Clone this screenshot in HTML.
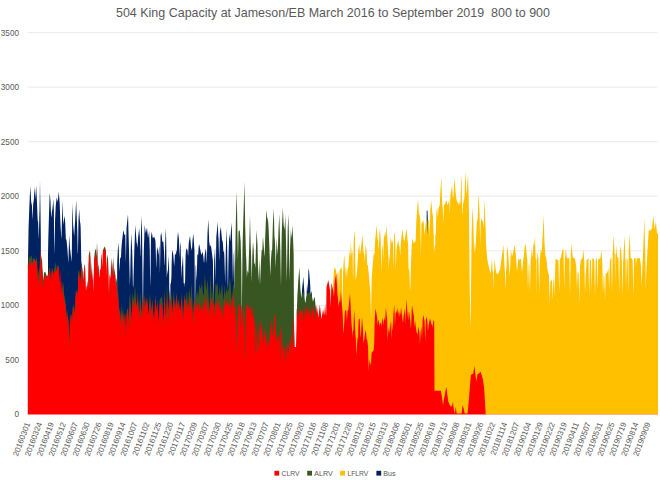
<!DOCTYPE html>
<html><head><meta charset="utf-8"><title>504 King Capacity</title>
<style>html,body{margin:0;padding:0;background:#fff;width:660px;height:480px;overflow:hidden}svg{display:block}</style>
</head><body>
<svg width="660" height="480" viewBox="0 0 660 480">
<style>
text{font-family:"Liberation Sans",sans-serif;fill:#595959}
.ax{font-size:8.2px}
.xl{font-size:8px}
.lg{font-size:7.5px}
</style>
<rect width="660" height="480" fill="#fff"/>
<line x1="27.5" x2="657.5" y1="359.94" y2="359.94" stroke="#dcdcdc" stroke-width="0.6"/>
<line x1="27.5" x2="657.5" y1="305.38" y2="305.38" stroke="#dcdcdc" stroke-width="0.6"/>
<line x1="27.5" x2="657.5" y1="250.81" y2="250.81" stroke="#dcdcdc" stroke-width="0.6"/>
<line x1="27.5" x2="657.5" y1="196.25" y2="196.25" stroke="#dcdcdc" stroke-width="0.6"/>
<line x1="27.5" x2="657.5" y1="141.69" y2="141.69" stroke="#dcdcdc" stroke-width="0.6"/>
<line x1="27.5" x2="657.5" y1="87.12" y2="87.12" stroke="#dcdcdc" stroke-width="0.6"/>
<line x1="27.5" x2="657.5" y1="32.56" y2="32.56" stroke="#dcdcdc" stroke-width="0.6"/>

<filter id="bl" x="0" y="0" width="660" height="480" filterUnits="userSpaceOnUse"><feGaussianBlur stdDeviation="0.4 0.25"/></filter>
<g id="areas" filter="url(#bl)">
<path d="M27.70,417.50 L27.70,417.5 L27.83,417.5 L27.94,262.9 L28.02,258.2 L28.20,248.4 L28.56,228.2 L28.62,226.2 L28.67,225.0 L28.70,224.1 L28.86,220.1 L29.20,211.1 L29.50,203.3 L29.70,199.1 L30.00,192.8 L30.02,192.3 L30.20,188.6 L30.33,185.8 L30.62,191.4 L30.65,191.9 L30.70,192.8 L31.17,201.7 L31.20,201.8 L31.22,202.0 L31.67,204.2 L31.70,204.3 L31.76,204.7 L31.93,205.5 L32.00,207.6 L32.05,208.8 L32.20,212.1 L32.36,215.9 L32.55,220.0 L32.70,216.2 L32.96,209.8 L33.00,208.9 L33.17,204.0 L33.19,203.8 L33.20,203.8 L33.33,203.0 L33.70,200.8 L33.83,200.0 L34.20,194.1 L34.34,191.9 L34.67,186.7 L34.70,187.3 L35.00,192.9 L35.20,196.7 L35.33,199.2 L35.70,193.1 L35.77,192.0 L36.17,185.3 L36.20,186.1 L36.67,196.1 L36.70,196.9 L37.00,203.3 L37.03,204.1 L37.20,208.3 L37.44,214.4 L37.63,219.1 L37.67,220.0 L37.70,220.2 L38.17,222.5 L38.20,223.4 L38.23,224.3 L38.67,237.5 L38.70,237.8 L38.79,238.7 L39.01,229.8 L39.18,222.6 L39.20,221.8 L39.33,216.3 L39.41,213.1 L39.50,211.7 L39.70,199.3 L39.78,194.4 L40.00,180.8 L40.20,193.2 L40.38,204.3 L40.50,211.7 L40.60,219.2 L40.66,223.7 L40.70,227.0 L40.83,237.2 L41.00,417.5 L47.83,417.5 L48.00,254.6 L48.20,244.2 L48.29,239.6 L48.43,234.5 L48.67,226.0 L48.68,225.6 L48.70,224.8 L48.83,220.0 L49.03,213.5 L49.20,207.9 L49.67,192.5 L49.69,192.7 L49.70,192.9 L50.00,196.1 L50.20,198.3 L50.24,198.7 L50.51,201.6 L50.67,205.8 L50.70,206.6 L50.72,207.1 L50.84,210.2 L51.13,217.5 L51.20,217.2 L51.33,216.4 L51.44,215.8 L51.67,214.6 L51.70,213.9 L51.75,212.8 L51.92,211.8 L52.20,210.1 L52.50,208.3 L52.70,206.1 L52.97,203.2 L53.14,201.3 L53.20,200.6 L53.33,199.2 L53.70,206.9 L53.74,207.6 L53.83,209.6 L53.83,209.9 L54.09,229.3 L54.17,235.5 L54.20,237.8 L54.34,247.0 L54.45,254.7 L54.70,243.9 L54.83,238.1 L55.00,225.2 L55.07,219.8 L55.20,216.9 L55.67,206.7 L55.70,206.4 L55.82,205.3 L56.02,203.4 L56.20,201.8 L56.33,200.6 L56.62,197.9 L56.67,197.5 L56.70,197.6 L56.82,198.1 L57.20,199.7 L57.23,199.8 L57.67,201.7 L57.70,201.4 L58.20,197.1 L58.38,195.6 L58.70,192.8 L58.72,192.6 L58.83,191.7 L59.00,194.0 L59.20,196.8 L59.32,198.5 L59.47,200.6 L59.67,203.3 L59.70,204.2 L59.92,210.0 L60.00,212.0 L60.20,217.2 L60.44,223.3 L60.50,225.0 L60.66,227.8 L60.70,228.5 L60.95,232.8 L61.00,234.4 L61.04,235.4 L61.17,239.3 L61.20,238.9 L61.57,234.1 L61.64,231.5 L61.70,229.2 L61.79,225.7 L61.83,224.2 L62.00,217.4 L62.10,213.2 L62.19,209.8 L62.20,209.5 L62.50,200.8 L62.70,208.1 L62.70,208.3 L63.00,219.0 L63.17,225.0 L63.20,224.7 L63.30,224.0 L63.33,223.8 L63.48,222.6 L63.70,221.0 L63.83,220.0 L64.00,219.2 L64.08,218.8 L64.20,218.2 L64.67,215.8 L64.68,216.0 L64.70,216.3 L64.90,218.9 L65.00,220.2 L65.20,222.8 L65.21,222.9 L65.50,230.2 L65.54,231.2 L65.70,235.5 L65.83,238.9 L66.00,239.2 L66.14,239.4 L66.20,239.5 L66.33,239.8 L66.38,239.7 L66.45,239.5 L66.70,242.0 L66.74,242.4 L67.00,245.0 L67.20,247.0 L67.33,248.3 L67.61,252.5 L67.70,253.8 L68.00,258.3 L68.20,261.3 L68.33,263.3 L68.63,253.3 L68.66,252.1 L68.70,250.9 L69.00,240.7 L69.17,235.0 L69.20,235.5 L69.26,236.5 L69.70,243.5 L69.74,244.2 L69.86,246.1 L70.00,248.3 L70.20,250.0 L70.70,254.2 L70.91,255.9 L71.00,256.7 L71.02,256.2 L71.20,257.9 L71.46,260.5 L71.64,262.1 L71.70,258.7 L71.83,251.0 L72.00,237.1 L72.06,231.8 L72.20,220.3 L72.26,215.3 L72.50,203.3 L72.66,208.6 L72.67,208.7 L72.70,209.8 L73.00,219.6 L73.17,225.0 L73.20,225.4 L73.70,231.2 L73.95,234.1 L74.00,234.7 L74.09,235.8 L74.17,236.7 L74.20,236.1 L74.55,230.3 L74.70,227.8 L75.00,222.8 L75.15,220.3 L75.17,220.0 L75.20,219.3 L75.44,214.6 L75.70,209.3 L76.00,203.3 L76.17,200.0 L76.20,201.0 L76.70,216.0 L76.83,220.0 L77.00,224.0 L77.09,226.2 L77.12,226.9 L77.20,228.8 L77.29,230.9 L77.67,252.1 L77.69,252.3 L77.70,252.4 L77.91,254.1 L78.00,249.0 L78.20,237.8 L78.29,232.6 L78.50,220.9 L78.53,219.5 L78.70,216.7 L78.90,213.5 L79.00,211.9 L79.17,209.2 L79.20,209.7 L79.70,217.8 L79.71,218.1 L79.83,220.0 L80.00,221.2 L80.20,222.8 L80.31,223.6 L80.50,225.0 L80.66,228.5 L80.69,230.0 L80.70,230.7 L80.91,241.6 L81.00,245.9 L81.17,254.3 L81.20,256.4 L81.28,261.2 L81.70,264.2 L81.83,265.1 L81.90,417.5 L117.00,417.5 L117.17,263.3 L117.20,262.7 L117.36,259.4 L117.70,252.7 L117.83,250.0 L117.89,249.2 L117.96,248.1 L118.00,247.5 L118.20,244.5 L118.33,242.5 L118.58,246.5 L118.70,248.5 L118.83,250.5 L119.00,257.8 L119.18,263.4 L119.20,264.2 L119.44,272.0 L119.51,270.7 L119.70,267.2 L119.78,265.8 L119.94,262.8 L120.00,261.6 L120.06,259.4 L120.20,258.3 L120.30,257.4 L120.54,257.6 L120.70,257.7 L120.92,257.8 L121.00,256.4 L121.04,255.7 L121.14,253.9 L121.17,253.4 L121.20,252.8 L121.54,246.3 L121.70,244.7 L122.00,241.7 L122.17,240.0 L122.20,239.7 L122.38,238.2 L122.70,235.4 L123.00,232.9 L123.20,231.1 L123.33,230.0 L123.67,231.4 L123.70,231.6 L124.00,232.9 L124.20,233.7 L124.50,235.0 L124.70,234.9 L125.00,234.7 L125.09,234.6 L125.20,234.6 L125.26,234.5 L125.33,237.7 L125.70,255.1 L125.83,261.3 L125.88,263.0 L125.93,260.3 L126.00,256.2 L126.20,244.9 L126.47,229.6 L126.50,228.1 L126.53,227.8 L126.70,226.2 L126.83,225.0 L127.00,223.5 L127.20,221.6 L127.70,217.0 L128.00,214.2 L128.09,217.5 L128.20,221.3 L128.20,221.3 L128.69,239.0 L128.70,239.2 L129.00,250.0 L129.20,258.0 L129.29,261.8 L129.62,274.9 L129.70,279.1 L129.75,282.0 L129.83,286.4 L130.00,281.7 L130.20,276.2 L130.24,275.0 L130.50,260.3 L130.70,252.2 L130.86,245.6 L131.00,242.0 L131.04,241.0 L131.20,236.8 L131.30,234.1 L131.33,233.3 L131.70,241.3 L132.20,252.1 L132.28,253.9 L132.33,256.2 L132.52,265.8 L132.70,275.0 L132.73,276.5 L132.90,285.2 L133.20,286.9 L133.33,287.6 L133.52,277.1 L133.70,271.1 L133.85,266.1 L133.97,261.9 L134.20,254.4 L134.33,250.0 L134.70,240.8 L134.99,233.6 L135.11,230.6 L135.20,228.3 L135.33,225.0 L135.70,230.0 L136.20,236.9 L136.20,237.0 L136.62,242.6 L136.67,243.3 L136.70,243.2 L136.80,242.8 L137.20,246.1 L137.42,247.8 L137.56,245.6 L137.69,243.6 L137.70,243.4 L138.00,238.8 L138.04,238.0 L138.20,236.6 L138.70,232.3 L138.84,231.2 L139.17,228.3 L139.20,228.8 L139.21,228.9 L139.70,235.2 L139.84,237.0 L139.97,242.1 L140.06,245.6 L140.20,250.8 L140.33,255.9 L140.46,256.5 L140.70,245.3 L141.08,228.0 L141.20,225.5 L141.48,219.7 L141.67,215.8 L141.70,217.4 L141.72,218.3 L142.12,236.9 L142.20,245.8 L142.50,277.5 L142.57,284.1 L142.70,297.7 L142.74,417.5 L143.07,417.5 L143.17,294.3 L143.20,290.7 L143.35,273.9 L143.70,256.7 L143.83,250.0 L143.90,248.1 L144.15,240.6 L144.20,239.0 L144.67,225.0 L144.70,225.2 L144.76,225.7 L145.20,228.8 L145.55,231.3 L145.70,232.4 L145.79,233.0 L145.83,233.3 L146.20,231.5 L146.70,229.0 L147.00,227.5 L147.00,227.5 L147.08,228.4 L147.20,229.7 L147.70,235.1 L148.00,238.3 L148.20,237.0 L148.55,234.8 L148.70,233.8 L148.75,233.5 L149.17,230.8 L149.20,231.9 L149.70,247.4 L149.76,249.1 L149.93,265.3 L150.00,272.2 L150.20,280.4 L150.34,286.3 L150.38,287.7 L150.70,260.0 L150.83,248.6 L151.00,237.0 L151.20,235.4 L151.32,234.4 L151.67,231.7 L151.70,231.9 L151.91,233.0 L152.20,234.7 L152.38,235.7 L152.70,237.6 L152.83,238.3 L153.20,237.9 L153.49,237.5 L153.70,237.2 L154.06,236.8 L154.17,236.7 L154.20,236.8 L154.59,237.9 L154.70,238.2 L155.20,239.6 L155.33,240.0 L155.49,242.3 L155.58,243.8 L155.70,248.3 L156.19,267.3 L156.20,267.9 L156.20,268.0 L156.33,266.9 L156.50,261.5 L156.70,255.4 L156.82,251.5 L157.20,248.8 L157.38,247.5 L157.50,246.7 L157.70,248.7 L157.91,250.7 L158.20,253.7 L158.33,255.0 L158.54,252.9 L158.70,251.3 L159.20,246.3 L159.33,245.0 L159.33,245.0 L159.53,254.0 L159.69,261.7 L159.70,262.1 L159.95,273.9 L160.20,258.3 L160.33,249.9 L160.57,235.7 L160.70,235.1 L161.20,233.1 L161.25,232.9 L161.28,232.7 L161.33,232.5 L161.70,235.9 L162.20,240.4 L162.24,240.8 L162.33,241.7 L163.33,241.7 L163.47,243.5 L163.70,246.9 L164.11,252.7 L164.19,255.5 L164.20,255.8 L164.50,265.6 L164.62,264.8 L164.70,264.3 L164.73,264.1 L165.17,245.0 L165.20,243.7 L165.35,238.1 L165.58,233.4 L165.70,231.0 L165.83,228.3 L165.99,233.3 L166.15,238.5 L166.20,241.8 L166.67,272.7 L166.70,274.5 L166.72,275.3 L166.77,278.3 L167.04,274.5 L167.20,272.2 L167.39,269.5 L167.67,275.0 L167.70,274.3 L168.09,266.6 L168.14,265.5 L168.20,264.3 L168.67,255.0 L168.70,256.1 L169.15,271.3 L169.17,273.3 L169.20,276.7 L169.50,417.5 L170.20,417.5 L170.39,283.4 L170.53,283.3 L170.78,283.3 L170.83,284.4 L171.20,279.7 L171.40,277.0 L171.51,271.1 L171.67,262.4 L171.70,261.5 L172.02,252.9 L172.20,251.8 L172.27,251.4 L172.48,250.1 L172.50,250.0 L172.70,251.2 L173.20,254.2 L173.33,255.0 L173.56,258.2 L173.68,259.9 L173.70,260.1 L174.17,266.7 L174.20,266.1 L174.70,258.1 L174.92,254.7 L175.00,253.3 L175.13,253.6 L175.20,253.7 L175.70,254.5 L176.00,255.0 L176.20,252.3 L176.23,251.9 L176.36,251.6 L176.51,251.2 L176.70,250.7 L176.85,250.3 L177.00,246.8 L177.20,242.6 L177.47,236.9 L177.69,234.8 L177.70,234.7 L177.93,232.4 L178.00,231.7 L178.20,233.3 L178.70,237.5 L178.74,237.8 L178.94,239.5 L179.00,241.9 L179.20,247.6 L179.49,256.0 L179.56,257.8 L179.70,253.6 L180.00,245.0 L180.18,241.8 L180.20,242.0 L180.25,242.5 L180.66,246.6 L180.70,248.6 L181.00,263.2 L181.20,274.2 L181.23,275.7 L181.28,278.4 L181.70,269.2 L181.84,266.2 L181.90,265.0 L182.00,266.7 L182.20,264.3 L182.70,258.5 L182.74,258.1 L183.00,255.0 L183.00,255.0 L183.20,263.5 L183.67,283.3 L184.47,283.3 L184.67,287.2 L184.70,286.7 L184.93,283.3 L185.09,280.9 L185.20,274.9 L185.50,259.0 L185.70,253.5 L185.71,253.3 L186.05,250.6 L186.20,249.4 L186.33,248.3 L186.47,248.5 L186.70,248.9 L187.09,249.4 L187.20,249.6 L187.49,250.0 L187.50,250.2 L187.70,252.3 L187.74,252.7 L188.10,256.4 L188.19,254.5 L188.20,254.3 L188.67,244.3 L188.70,243.5 L188.72,243.0 L189.05,241.2 L189.07,241.1 L189.20,240.3 L189.70,237.5 L190.00,235.8 L190.20,238.0 L190.21,238.1 L190.39,240.0 L190.70,243.3 L191.17,248.3 L191.20,248.2 L191.28,247.8 L191.70,249.9 L191.73,250.0 L191.90,250.9 L191.91,250.6 L192.17,246.8 L192.20,246.2 L192.51,240.3 L192.70,238.8 L192.94,236.7 L193.20,234.5 L193.33,233.4 L193.33,233.3 L193.70,238.8 L194.17,245.9 L194.20,246.3 L194.33,248.3 L194.44,249.9 L194.46,250.3 L194.70,270.0 L195.08,417.5 L195.20,294.9 L195.33,287.9 L195.70,264.6 L195.74,264.7 L195.75,264.7 L196.05,265.7 L196.20,270.5 L196.33,274.8 L196.67,280.6 L196.69,279.9 L196.70,279.5 L197.20,259.2 L197.29,255.5 L197.33,255.0 L197.41,254.5 L197.49,254.0 L197.70,254.5 L198.11,255.6 L198.20,254.1 L198.22,253.8 L198.33,252.0 L198.70,246.7 L198.73,246.4 L198.78,246.1 L199.17,244.2 L199.20,244.3 L199.20,244.3 L199.70,246.8 L200.06,248.7 L200.20,249.3 L200.33,250.0 L200.70,251.8 L200.83,252.5 L201.20,254.3 L201.33,255.0 L201.61,254.2 L201.70,254.0 L202.20,252.5 L202.48,251.7 L202.50,251.7 L202.70,252.8 L202.70,252.8 L203.20,255.7 L203.47,257.2 L203.67,260.5 L203.70,260.7 L203.82,261.6 L204.09,263.5 L204.13,262.9 L204.20,261.9 L204.67,255.4 L204.70,254.9 L204.71,254.8 L204.72,254.7 L205.20,252.0 L205.70,249.1 L205.83,248.3 L205.92,249.2 L206.20,252.0 L206.26,252.6 L206.38,255.7 L206.67,263.3 L206.70,262.9 L206.88,260.8 L207.00,255.5 L207.20,246.5 L207.50,233.4 L207.50,233.3 L207.70,229.9 L207.80,228.2 L208.17,221.9 L208.20,221.4 L208.33,219.2 L208.70,229.1 L209.17,241.7 L209.20,241.9 L209.23,242.1 L209.34,242.7 L209.70,244.9 L210.00,246.7 L210.20,246.3 L210.41,245.9 L210.57,245.5 L210.70,245.3 L210.83,245.0 L211.20,247.6 L211.70,251.2 L211.81,251.9 L211.85,252.3 L212.00,253.3 L212.20,255.0 L212.70,259.2 L212.86,260.5 L212.93,261.1 L213.00,266.3 L213.20,279.3 L213.36,289.5 L213.55,417.5 L213.70,291.7 L214.17,260.2 L214.17,260.0 L214.20,259.6 L214.42,256.6 L214.43,256.5 L214.70,252.9 L215.07,248.0 L215.17,253.0 L215.20,254.9 L215.48,270.4 L215.69,282.1 L215.70,281.3 L216.13,249.7 L216.20,244.8 L216.31,236.9 L216.33,236.7 L216.47,235.3 L216.70,233.0 L217.00,230.0 L217.20,227.5 L217.52,223.5 L217.53,223.4 L217.67,221.7 L217.70,222.4 L218.20,233.7 L218.33,236.7 L218.38,236.9 L218.54,237.7 L218.70,243.6 L219.08,258.0 L219.16,261.0 L219.20,260.0 L219.33,256.4 L219.52,247.6 L219.70,238.9 L219.78,234.9 L220.00,231.7 L220.20,230.5 L220.39,229.3 L220.44,229.0 L220.70,227.5 L220.83,226.7 L221.20,230.9 L221.70,236.6 L221.93,239.1 L222.00,240.0 L222.04,240.1 L222.20,240.5 L222.70,241.8 L222.78,241.9 L223.20,248.3 L223.33,250.3 L223.38,251.5 L223.40,251.9 L223.42,251.9 L223.70,251.6 L224.02,251.3 L224.20,253.4 L224.33,255.0 L224.70,267.5 L224.75,269.1 L225.05,279.3 L225.17,283.3 L225.20,281.7 L225.59,262.1 L225.70,256.7 L225.83,250.0 L226.20,240.5 L226.56,231.1 L226.67,228.3 L226.70,229.7 L227.11,246.2 L227.20,251.3 L227.33,259.1 L227.69,280.8 L227.70,281.4 L227.73,283.5 L228.00,289.9 L228.20,276.2 L228.35,265.7 L228.67,250.0 L228.70,249.2 L228.85,245.3 L229.00,241.6 L229.20,236.7 L229.33,233.3 L229.70,236.4 L230.03,239.1 L230.20,240.6 L230.22,240.8 L230.33,241.7 L230.70,235.3 L231.00,230.0 L231.20,227.8 L231.67,222.5 L231.68,222.9 L231.70,223.9 L231.79,227.6 L232.20,244.5 L232.33,250.0 L232.70,268.3 L233.00,283.3 L233.20,274.8 L233.29,271.0 L233.36,267.9 L233.67,255.0 L233.70,254.7 L234.00,251.7 L234.17,250.0 L234.20,253.3 L234.32,265.7 L234.58,417.5 L301.33,417.5 L301.70,295.0 L302.17,288.3 L302.20,288.0 L302.33,286.7 L302.54,284.6 L302.70,283.0 L303.20,278.0 L303.33,276.7 L303.70,282.2 L303.92,285.5 L304.20,289.7 L304.33,291.7 L304.35,291.9 L304.70,417.5 L306.33,417.5 L306.70,291.0 L307.00,285.0 L307.15,283.3 L307.17,283.6 L307.20,284.0 L307.67,290.5 L307.70,290.9 L307.77,291.8 L308.00,283.2 L308.18,277.7 L308.20,276.9 L308.39,271.0 L308.70,269.1 L308.83,268.3 L309.00,270.3 L309.20,272.6 L309.70,278.4 L309.79,279.5 L309.83,280.0 L310.01,281.4 L310.20,285.2 L310.33,287.8 L310.63,417.5 L310.70,293.3 L310.74,293.2 L310.83,292.9 L311.20,291.0 L311.25,290.7 L311.67,293.2 L311.68,293.2 L311.70,293.4 L311.83,294.2 L312.00,295.7 L312.20,417.5 L426.30,417.5 L426.67,211.4 L426.70,210.5 L427.50,210.5 L427.70,215.8 L427.81,218.7 L427.83,219.2 L427.90,417.5 L658.00,417.5 L658.00,417.50 Z" fill="#002060"/>
<path d="M27.70,417.50 L27.70,417.5 L332.80,417.5 L333.00,286.7 L333.20,282.7 L333.33,280.0 L333.39,278.8 L333.67,273.3 L333.70,273.1 L333.99,271.2 L334.20,269.8 L334.31,269.1 L334.59,267.2 L334.67,266.7 L334.70,266.8 L334.93,267.4 L335.00,267.6 L335.20,268.2 L335.55,269.2 L335.59,269.3 L335.70,269.6 L335.83,270.0 L336.19,271.5 L336.20,271.9 L336.21,272.2 L336.33,417.5 L336.83,417.5 L337.00,282.0 L337.20,277.8 L337.38,274.0 L337.50,273.8 L337.70,273.2 L337.85,272.9 L337.88,272.8 L338.20,272.0 L338.33,271.7 L338.40,271.6 L338.45,273.7 L338.50,275.4 L338.70,283.1 L339.00,294.5 L339.05,292.3 L339.12,289.7 L339.17,287.8 L339.20,286.4 L339.60,270.4 L339.66,270.3 L339.70,270.3 L340.00,270.0 L340.20,269.6 L340.26,269.5 L340.70,268.6 L340.83,268.3 L340.86,268.3 L341.00,268.0 L341.20,267.6 L341.67,266.7 L341.70,267.6 L341.79,270.0 L342.20,296.3 L342.39,308.1 L342.50,307.3 L342.70,294.6 L342.72,293.5 L342.99,276.4 L343.20,270.4 L343.32,267.1 L343.33,266.7 L343.67,262.0 L343.70,261.5 L343.92,258.5 L344.17,255.0 L344.20,255.2 L344.51,257.4 L344.70,263.6 L345.00,273.4 L345.11,277.0 L345.20,275.3 L345.70,266.0 L345.71,265.8 L345.83,266.7 L346.20,268.2 L346.28,268.6 L346.35,269.8 L346.67,274.9 L346.70,275.5 L346.88,278.3 L346.95,277.8 L347.00,277.4 L347.20,274.2 L347.48,269.9 L347.55,269.6 L347.70,269.0 L348.20,267.2 L348.33,266.7 L348.70,262.1 L349.20,255.8 L349.62,250.5 L349.67,250.8 L349.70,251.2 L350.00,254.9 L350.20,257.4 L350.22,257.7 L350.70,245.0 L350.82,241.7 L350.83,241.7 L351.20,247.5 L351.33,249.7 L351.67,255.0 L351.70,254.8 L352.20,251.8 L352.49,250.0 L352.50,250.5 L352.70,261.5 L352.82,268.0 L353.09,283.1 L353.20,275.6 L353.42,260.5 L353.67,243.2 L353.69,241.4 L353.70,241.3 L354.02,237.6 L354.17,235.8 L354.20,235.4 L354.67,230.0 L354.70,230.8 L354.90,235.6 L354.98,237.5 L355.20,253.2 L355.50,274.6 L355.50,274.7 L355.58,281.3 L355.70,280.0 L355.83,278.5 L356.10,275.4 L356.18,274.5 L356.20,275.2 L356.33,280.0 L356.70,275.1 L357.20,268.4 L357.33,266.7 L357.47,264.4 L357.70,260.6 L358.07,254.4 L358.20,252.2 L358.33,250.0 L358.67,247.3 L358.70,247.1 L359.17,243.3 L359.20,243.8 L359.67,250.3 L359.70,250.8 L359.76,251.6 L360.00,255.0 L360.20,253.8 L360.36,252.9 L360.70,250.8 L360.83,250.0 L360.96,248.8 L361.20,246.3 L361.67,241.7 L361.70,241.4 L362.00,239.0 L362.20,237.4 L362.50,235.0 L362.70,238.6 L362.89,242.0 L363.20,247.6 L363.33,250.0 L363.49,250.9 L363.70,252.2 L364.09,254.5 L364.17,255.0 L364.20,254.8 L364.29,254.2 L364.70,259.5 L364.89,262.0 L365.00,259.4 L365.20,254.4 L365.49,247.0 L365.70,245.8 L365.83,245.0 L366.01,246.5 L366.20,248.1 L366.61,251.7 L366.63,251.8 L366.70,253.3 L367.00,259.7 L367.20,264.6 L367.21,264.8 L367.23,265.3 L367.50,265.0 L367.70,264.8 L367.83,264.7 L368.00,266.7 L368.08,267.4 L368.20,268.7 L368.67,273.3 L368.68,273.4 L368.70,273.7 L369.17,278.3 L369.20,278.8 L369.28,279.7 L369.70,285.2 L370.00,289.0 L370.20,291.6 L370.33,293.3 L370.39,292.7 L370.44,292.2 L370.70,303.9 L370.99,316.9 L371.04,319.3 L371.20,308.4 L371.33,299.4 L371.59,282.2 L371.64,278.6 L371.67,278.3 L371.70,277.9 L372.20,270.9 L372.50,266.7 L372.70,264.7 L373.20,259.7 L373.33,258.3 L373.62,255.5 L373.67,255.0 L373.70,254.7 L373.94,252.2 L374.17,253.4 L374.20,253.5 L374.22,253.6 L374.54,255.3 L374.67,252.2 L374.70,251.4 L374.82,248.4 L375.14,240.2 L375.20,239.7 L375.50,236.7 L375.70,234.7 L376.20,229.7 L376.67,225.0 L376.70,225.5 L377.00,230.3 L377.08,231.6 L377.20,233.5 L377.50,238.3 L377.68,239.0 L377.70,239.1 L378.15,240.9 L378.20,242.0 L378.28,243.8 L378.33,245.0 L378.70,249.0 L378.75,249.6 L378.84,247.3 L379.17,238.5 L379.20,237.7 L379.35,233.7 L379.44,233.1 L379.70,231.3 L380.00,229.2 L380.04,229.8 L380.20,232.6 L380.70,241.1 L380.75,241.9 L380.83,246.6 L380.93,251.2 L381.20,263.9 L381.35,271.0 L381.53,265.3 L381.67,261.1 L381.70,259.6 L381.95,248.3 L382.13,247.2 L382.20,246.8 L382.50,245.0 L382.59,244.6 L382.64,246.1 L382.70,247.7 L383.19,261.3 L383.20,260.9 L383.24,259.4 L383.33,256.2 L383.70,242.3 L383.79,238.9 L383.84,238.6 L384.17,236.7 L384.20,236.5 L384.60,234.9 L384.70,234.5 L385.00,233.3 L385.20,232.2 L385.20,232.1 L385.34,231.3 L385.70,235.1 L385.80,236.1 L385.83,236.5 L385.94,237.8 L386.20,232.4 L386.54,225.5 L386.67,225.0 L386.70,225.7 L387.16,234.8 L387.20,235.7 L387.50,241.7 L387.70,244.9 L387.76,245.8 L388.20,252.9 L388.33,255.0 L388.36,255.8 L388.70,266.0 L388.83,270.0 L389.14,260.7 L389.17,260.4 L389.20,260.0 L389.50,256.6 L389.70,258.3 L389.74,258.6 L390.20,245.7 L390.34,241.6 L390.59,239.1 L390.70,238.0 L390.83,236.7 L391.19,239.5 L391.20,239.6 L391.67,243.3 L391.70,243.3 L391.79,243.1 L392.20,242.3 L392.22,242.2 L392.50,241.7 L392.70,240.7 L392.82,240.1 L392.95,239.4 L393.20,251.7 L393.42,262.4 L393.55,268.6 L393.67,261.6 L393.70,259.7 L394.15,234.2 L394.17,234.2 L394.20,234.1 L394.36,233.5 L394.67,232.5 L394.70,232.9 L394.96,236.3 L395.20,239.4 L395.23,239.8 L395.50,254.4 L395.56,257.4 L395.70,264.1 L395.83,270.1 L395.83,269.9 L396.20,258.0 L396.33,253.7 L396.43,249.5 L396.55,248.9 L396.70,248.2 L397.15,245.9 L397.20,245.7 L397.33,245.0 L397.50,244.2 L397.70,243.2 L397.75,242.9 L398.20,240.7 L398.33,240.0 L398.70,242.4 L399.17,245.6 L399.20,245.8 L399.33,246.7 L399.61,247.1 L399.70,248.4 L399.91,251.3 L400.20,255.3 L400.21,255.4 L400.33,254.1 L400.51,250.1 L400.70,246.0 L400.81,243.6 L400.83,243.3 L401.11,240.5 L401.20,239.7 L401.33,238.3 L401.70,235.5 L402.20,231.5 L402.48,229.3 L402.50,229.2 L402.70,231.0 L403.08,234.5 L403.20,235.6 L403.50,238.3 L403.68,238.8 L403.70,238.9 L404.17,240.2 L404.20,240.3 L404.67,241.7 L404.70,241.4 L404.98,239.0 L405.20,237.2 L405.58,234.0 L405.67,233.3 L405.70,233.2 L406.18,230.8 L406.20,230.7 L406.33,230.0 L406.67,228.3 L406.70,228.8 L407.20,235.8 L407.50,240.0 L407.58,240.6 L407.70,241.6 L408.00,244.0 L408.18,250.3 L408.20,251.2 L408.33,256.1 L408.60,270.2 L408.70,269.8 L408.78,269.5 L409.17,267.7 L409.20,267.7 L409.20,267.7 L409.70,281.6 L409.88,286.6 L410.00,291.5 L410.20,288.3 L410.46,284.0 L410.48,283.8 L410.70,274.9 L410.83,269.6 L411.06,261.3 L411.08,260.8 L411.20,257.9 L411.67,246.7 L411.67,246.7 L411.70,246.3 L412.00,243.3 L412.20,241.3 L412.50,238.3 L412.70,239.2 L413.20,241.3 L413.33,241.9 L413.67,243.3 L413.70,243.3 L413.83,243.1 L414.20,242.7 L414.43,242.4 L414.70,242.0 L415.00,241.7 L415.03,241.2 L415.06,240.6 L415.20,240.9 L415.67,242.1 L415.70,240.8 L415.83,236.3 L416.20,224.4 L416.26,222.3 L416.67,216.7 L416.70,216.2 L416.96,212.3 L417.20,208.7 L417.33,206.7 L417.56,204.4 L417.70,203.0 L418.00,200.0 L418.16,201.6 L418.20,202.0 L418.33,203.3 L418.42,204.2 L418.67,209.3 L418.70,209.9 L419.02,215.3 L419.17,214.7 L419.20,214.7 L419.39,214.6 L419.62,214.5 L419.70,215.3 L419.99,218.2 L420.00,218.3 L420.20,219.1 L420.25,219.4 L420.59,240.2 L420.70,247.2 L420.83,255.5 L420.86,256.8 L421.20,237.1 L421.42,224.5 L421.45,222.6 L421.67,222.9 L421.70,222.9 L422.00,223.3 L422.02,223.3 L422.20,222.8 L422.62,221.8 L422.70,221.6 L423.20,220.3 L423.33,220.0 L423.70,222.9 L423.83,224.0 L424.17,230.7 L424.20,231.2 L424.43,234.9 L424.63,233.3 L424.70,232.8 L425.00,230.4 L425.03,229.7 L425.20,228.3 L425.24,228.0 L425.70,224.2 L425.83,223.0 L426.00,221.7 L426.20,221.2 L426.30,220.9 L426.67,220.0 L426.70,219.9 L427.00,219.2 L427.20,219.3 L427.21,219.3 L427.34,222.8 L427.50,226.9 L427.70,232.2 L427.81,235.1 L427.83,234.6 L427.90,233.0 L427.94,231.9 L428.00,230.5 L428.20,225.4 L428.33,222.0 L428.41,220.0 L429.02,220.0 L429.17,224.9 L429.20,225.8 L429.62,236.9 L429.67,235.1 L429.70,233.7 L430.00,220.7 L430.20,212.0 L430.23,210.9 L430.33,210.0 L430.50,208.3 L430.70,206.3 L431.20,201.3 L431.33,200.0 L431.67,204.7 L431.70,205.1 L432.08,210.5 L432.17,211.7 L432.20,211.9 L432.68,214.8 L432.70,214.9 L432.98,216.6 L433.00,217.1 L433.20,223.2 L433.28,225.7 L433.33,227.3 L433.58,234.8 L433.70,232.8 L434.00,256.0 L434.17,250.9 L434.18,250.5 L434.20,250.3 L434.50,248.3 L434.70,247.0 L435.00,245.0 L435.20,245.0 L435.23,245.0 L435.33,234.3 L435.70,234.3 L435.83,234.2 L436.00,225.6 L436.20,219.3 L436.43,212.2 L436.70,210.3 L437.00,208.3 L437.20,208.7 L437.23,208.7 L437.70,215.6 L437.83,217.5 L438.00,215.6 L438.20,212.4 L438.43,208.8 L438.70,208.0 L439.17,206.7 L439.18,206.5 L439.20,206.5 L439.70,205.0 L439.78,204.7 L440.20,195.1 L440.33,192.1 L440.38,191.0 L440.70,186.2 L440.83,184.2 L441.20,178.7 L441.33,176.7 L441.67,187.5 L441.70,188.6 L442.00,198.3 L442.20,201.7 L442.50,206.7 L442.70,206.7 L442.70,206.7 L443.00,215.3 L443.20,221.0 L443.30,223.8 L443.33,222.9 L443.70,211.6 L443.90,205.5 L444.17,205.0 L444.20,205.0 L444.70,204.2 L445.20,203.5 L445.33,203.3 L445.70,202.1 L446.20,200.4 L446.33,200.0 L446.70,201.8 L447.17,204.2 L447.20,204.3 L447.33,205.0 L447.70,204.4 L448.20,203.6 L448.33,203.3 L448.70,201.5 L449.20,199.0 L449.23,198.9 L449.33,201.4 L449.67,209.9 L449.70,210.7 L449.83,214.0 L450.20,202.0 L450.33,197.7 L450.43,194.5 L450.70,193.2 L450.83,192.5 L451.20,190.7 L451.33,190.0 L451.70,187.3 L452.00,185.0 L452.20,188.0 L452.67,195.0 L452.70,195.2 L453.00,196.7 L453.20,197.7 L453.33,198.3 L453.67,192.5 L453.70,191.9 L454.00,186.7 L454.20,183.9 L454.67,177.5 L454.70,178.1 L455.20,186.6 L455.33,188.8 L455.50,191.7 L455.70,193.3 L455.83,194.3 L456.20,197.3 L456.33,198.3 L456.67,200.0 L456.70,200.2 L457.17,202.5 L457.20,202.5 L457.70,202.0 L458.00,201.7 L458.20,202.5 L458.70,204.5 L458.83,205.0 L459.20,204.3 L459.67,203.3 L459.70,202.7 L459.87,199.7 L460.20,203.1 L460.47,205.8 L460.50,204.3 L460.70,195.7 L461.07,179.8 L461.20,177.8 L461.33,175.8 L461.67,185.4 L461.70,186.4 L461.73,187.2 L462.00,201.4 L462.20,209.6 L462.33,214.8 L462.50,213.8 L462.67,212.8 L462.70,211.8 L462.93,205.1 L463.20,203.5 L463.50,201.7 L463.67,200.8 L463.70,200.7 L464.00,199.2 L464.17,200.0 L464.20,199.6 L464.60,194.6 L464.67,192.5 L464.70,191.4 L464.83,187.1 L465.20,176.9 L465.20,176.9 L465.50,171.7 L465.70,176.7 L466.17,188.3 L466.20,188.8 L466.67,195.0 L466.70,194.4 L467.20,185.7 L467.33,183.3 L467.50,181.2 L467.70,178.8 L468.00,175.0 L468.20,182.0 L468.67,198.3 L468.70,200.0 L469.00,215.0 L469.20,235.0 L469.50,265.0 L469.67,281.7 L469.70,283.8 L470.20,316.2 L470.20,316.4 L470.33,328.6 L470.70,314.7 L470.80,310.9 L470.83,307.7 L471.00,292.4 L471.20,272.0 L471.40,251.8 L471.67,231.7 L471.70,230.7 L472.17,216.7 L472.20,215.7 L472.50,206.7 L472.70,210.7 L473.17,220.0 L473.20,220.8 L473.33,223.9 L473.35,224.3 L473.67,235.8 L473.70,237.2 L473.95,247.9 L474.20,252.2 L474.33,254.5 L474.55,247.9 L474.70,245.3 L475.00,240.0 L475.20,243.5 L475.33,245.8 L475.67,251.7 L475.70,250.7 L476.20,235.7 L476.33,231.7 L476.70,225.3 L477.00,220.0 L477.09,218.6 L477.20,219.1 L477.50,220.4 L477.69,221.3 L477.70,220.9 L477.83,216.0 L478.20,203.0 L478.29,199.8 L478.67,194.2 L478.70,194.9 L479.17,204.8 L479.20,205.5 L479.33,208.3 L479.56,212.3 L479.70,220.7 L480.00,238.5 L480.16,245.4 L480.20,243.8 L480.50,231.8 L480.70,223.8 L480.76,221.5 L480.83,221.7 L481.20,220.2 L481.67,218.3 L481.70,218.5 L482.20,220.5 L482.50,221.7 L482.70,221.3 L483.00,220.7 L483.14,220.4 L483.20,221.7 L483.33,224.5 L483.70,227.6 L483.74,227.9 L484.00,217.9 L484.17,211.7 L484.20,210.5 L484.34,205.3 L484.67,200.8 L484.70,201.8 L484.92,208.0 L485.00,211.5 L485.17,218.7 L485.20,219.5 L485.52,227.5 L485.67,226.8 L485.70,228.8 L486.00,245.0 L486.17,245.0 L486.20,245.5 L486.70,252.5 L487.00,256.7 L487.20,258.0 L487.70,261.3 L488.00,263.3 L488.20,264.2 L488.70,266.3 L489.17,268.3 L489.20,268.5 L489.70,270.5 L490.00,271.7 L490.20,272.1 L490.70,273.1 L490.83,273.3 L491.05,270.6 L491.20,268.7 L491.70,262.2 L492.00,258.3 L492.20,262.5 L492.63,271.5 L492.70,271.5 L492.95,271.7 L493.20,283.6 L493.33,290.0 L493.70,272.5 L493.72,271.7 L494.03,271.6 L494.20,268.1 L494.67,258.3 L494.70,258.7 L495.20,264.7 L495.50,268.3 L495.62,269.0 L495.70,269.5 L496.20,272.5 L496.33,273.3 L496.70,273.6 L497.20,274.1 L497.33,274.2 L497.70,273.9 L498.20,273.4 L498.33,273.3 L498.70,272.4 L499.20,271.2 L499.33,270.8 L499.70,269.9 L500.20,268.7 L500.33,268.3 L500.70,265.4 L501.17,261.7 L501.20,261.4 L501.70,257.4 L502.00,255.0 L502.20,253.5 L502.38,252.1 L502.70,249.8 L503.20,246.0 L503.33,245.0 L503.70,251.4 L504.20,260.2 L504.28,261.6 L504.67,268.3 L504.70,268.8 L505.13,275.3 L505.20,276.7 L505.70,287.2 L505.83,290.0 L506.05,271.2 L506.20,269.4 L506.53,265.6 L506.70,258.2 L507.00,245.0 L507.20,246.5 L507.70,250.2 L507.95,252.1 L508.20,254.0 L508.33,255.0 L508.70,261.4 L508.97,266.1 L509.20,269.6 L509.67,276.7 L509.70,276.0 L510.20,265.8 L510.37,262.4 L510.70,253.6 L510.83,250.0 L511.20,251.8 L511.50,253.3 L511.70,254.7 L512.00,256.7 L512.20,255.9 L512.67,254.2 L512.70,254.0 L513.20,252.2 L513.33,251.7 L513.70,249.8 L514.00,248.3 L514.20,247.3 L514.67,245.0 L514.70,245.3 L515.20,249.0 L515.33,250.0 L515.70,253.7 L515.83,255.0 L516.20,259.6 L516.30,260.8 L516.70,267.0 L517.00,271.7 L517.20,269.7 L517.70,264.7 L518.20,259.7 L518.33,258.3 L518.70,258.8 L519.00,259.2 L519.20,259.4 L519.67,260.0 L519.70,260.0 L520.20,259.3 L520.33,259.2 L520.70,258.6 L520.83,258.3 L521.20,262.9 L521.30,264.2 L521.70,269.4 L522.00,273.3 L522.20,271.3 L522.70,266.3 L523.20,261.3 L523.33,260.0 L523.70,256.3 L524.17,251.7 L524.20,251.4 L524.70,247.4 L525.00,245.0 L525.83,245.0 L526.20,249.2 L526.70,254.9 L527.00,258.3 L527.20,259.0 L527.30,259.3 L527.70,276.9 L528.00,290.0 L528.20,282.6 L528.70,264.0 L529.00,265.0 L529.20,264.3 L529.30,264.0 L529.70,280.8 L530.00,293.3 L530.20,283.6 L530.70,259.3 L531.00,258.3 L531.20,255.8 L531.67,250.0 L531.70,249.9 L531.97,249.0 L532.20,252.1 L532.67,258.3 L532.70,257.7 L533.20,247.7 L533.37,244.3 L533.67,243.3 L533.70,243.6 L534.05,246.2 L534.20,244.7 L534.70,239.7 L535.00,236.7 L535.20,243.4 L535.63,258.1 L535.70,258.2 L535.95,258.7 L536.20,283.5 L536.33,296.6 L536.55,259.4 L536.70,259.6 L537.03,260.0 L537.20,257.0 L537.50,251.7 L537.70,253.3 L538.20,257.3 L538.33,258.3 L538.45,258.3 L538.47,258.4 L538.70,270.0 L539.17,293.3 L539.20,291.7 L539.70,266.7 L539.87,258.3 L540.00,258.3 L540.20,255.9 L540.70,249.9 L540.83,248.3 L541.20,250.5 L541.67,253.3 L541.70,252.7 L541.78,251.2 L542.20,243.6 L542.67,235.0 L542.70,235.2 L542.72,235.2 L543.20,224.9 L543.67,215.0 L543.70,216.1 L544.20,233.1 L544.50,243.3 L544.62,245.0 L544.70,246.1 L545.20,253.1 L545.33,255.0 L545.70,256.2 L546.20,257.9 L546.33,258.3 L546.70,262.0 L547.20,267.0 L547.33,268.3 L547.70,270.2 L548.20,272.7 L548.33,273.3 L548.70,274.6 L548.97,275.6 L549.20,284.8 L549.67,303.3 L549.70,302.3 L550.20,286.0 L550.37,280.6 L550.67,281.7 L550.70,281.6 L551.20,280.8 L551.67,280.0 L551.70,280.0 L551.97,280.0 L552.20,286.7 L552.67,300.0 L552.70,299.0 L553.20,284.8 L553.37,280.0 L553.67,280.0 L553.70,279.6 L553.97,276.7 L554.20,283.4 L554.67,296.6 L554.70,295.0 L555.20,269.8 L555.37,261.5 L555.50,260.0 L555.70,259.0 L555.83,258.3 L556.20,258.9 L556.70,259.6 L557.00,260.0 L558.33,260.0 L558.47,259.9 L558.70,271.0 L559.17,293.3 L559.20,291.7 L559.70,266.8 L559.87,258.5 L560.00,258.3 L560.83,258.3 L561.20,256.2 L561.70,253.4 L562.00,251.7 L562.20,251.0 L562.70,249.3 L563.00,248.3 L563.20,249.3 L563.47,250.7 L563.70,263.8 L564.17,290.0 L564.20,288.5 L564.70,265.4 L564.87,257.7 L564.88,257.7 L565.00,258.3 L565.20,255.9 L565.70,249.9 L565.83,248.3 L566.20,252.2 L566.70,257.5 L566.78,258.3 L568.67,258.3 L568.70,258.3 L569.20,257.1 L569.30,256.9 L569.70,279.6 L570.00,296.7 L570.20,284.4 L570.70,253.6 L570.72,253.6 L570.83,253.3 L571.20,249.3 L571.67,244.2 L571.70,244.6 L572.20,251.1 L572.62,256.6 L572.67,256.7 L572.70,256.7 L573.20,257.6 L573.67,258.3 L575.00,258.3 L575.20,259.7 L575.70,263.0 L576.00,265.0 L576.20,265.7 L576.30,266.1 L576.70,279.7 L577.00,290.0 L577.20,284.6 L577.70,271.1 L578.20,272.9 L578.33,273.3 L578.63,272.0 L578.70,275.0 L579.20,297.4 L579.33,303.3 L579.70,283.6 L580.03,265.6 L580.17,265.0 L580.20,264.7 L580.70,261.0 L580.83,260.0 L581.20,259.5 L581.70,258.9 L582.17,258.3 L582.20,258.4 L582.38,258.5 L582.70,255.4 L583.20,250.5 L583.33,249.2 L583.70,253.9 L584.17,260.0 L584.20,260.3 L584.28,260.9 L584.30,261.1 L584.70,279.5 L585.00,293.3 L585.20,287.3 L585.70,272.3 L585.83,273.3 L586.20,267.5 L586.67,260.0 L586.70,260.0 L587.20,259.3 L587.70,258.7 L588.00,258.3 L588.20,258.5 L588.47,258.7 L588.70,271.4 L589.17,296.6 L589.20,294.9 L589.70,268.6 L589.87,259.9 L590.00,260.0 L590.83,260.0 L590.97,259.9 L591.20,269.9 L591.67,290.0 L591.70,288.5 L592.20,266.0 L592.37,258.5 L592.50,258.3 L593.33,258.3 L593.70,259.1 L594.17,260.0 L594.30,260.0 L594.70,281.0 L595.00,296.7 L595.20,286.2 L595.70,259.9 L596.20,258.7 L596.33,258.3 L596.70,258.5 L596.80,258.5 L597.20,276.5 L597.50,290.0 L597.70,281.2 L598.20,259.1 L598.33,259.2 L599.17,259.2 L599.20,259.1 L599.70,258.8 L600.20,258.4 L600.33,258.3 L600.38,258.4 L600.70,255.6 L601.20,251.2 L601.33,250.0 L601.70,254.8 L602.20,261.3 L602.28,262.4 L602.30,262.5 L602.70,280.1 L603.00,293.3 L603.20,287.9 L603.70,274.2 L604.00,276.7 L604.20,276.3 L604.30,276.1 L604.70,289.8 L605.00,300.0 L605.20,292.5 L605.70,273.6 L605.83,273.3 L607.00,273.3 L607.20,272.6 L607.70,270.7 L608.20,268.8 L608.33,268.3 L608.47,267.7 L608.70,275.1 L609.17,290.0 L609.20,288.6 L609.70,267.7 L609.87,260.7 L610.00,260.0 L610.20,259.6 L610.70,258.6 L610.83,258.3 L611.20,257.1 L611.30,256.8 L611.70,277.7 L612.00,293.3 L612.20,281.6 L612.70,252.1 L612.72,252.1 L612.83,251.7 L613.20,244.3 L613.67,235.0 L613.70,235.7 L614.20,245.7 L614.50,251.7 L614.62,251.9 L614.63,251.9 L614.70,255.2 L615.20,280.0 L615.33,286.7 L615.38,253.5 L615.70,253.9 L616.03,254.5 L616.20,249.2 L616.33,245.0 L616.70,250.1 L617.17,256.7 L617.20,256.7 L617.28,256.8 L617.70,257.4 L618.20,258.1 L618.33,258.3 L618.47,257.8 L618.70,269.6 L619.17,293.3 L619.20,291.4 L619.70,262.0 L619.87,252.2 L619.88,252.1 L620.00,251.7 L620.20,250.1 L620.70,246.1 L620.83,245.0 L621.20,251.6 L621.67,260.0 L621.80,260.0 L622.20,281.0 L622.50,296.7 L622.70,286.2 L623.20,260.0 L623.33,260.0 L623.70,252.7 L623.72,252.3 L624.20,243.5 L624.67,235.0 L624.70,236.3 L625.20,255.8 L625.30,259.7 L625.62,259.7 L625.70,266.3 L626.00,290.0 L626.20,281.0 L626.70,258.6 L627.00,258.3 L627.20,258.7 L627.63,259.6 L627.70,262.8 L628.20,286.9 L628.33,293.3 L628.70,251.8 L628.72,249.9 L629.03,247.0 L629.20,243.4 L629.67,233.3 L629.70,234.2 L630.20,247.4 L630.62,258.3 L631.67,258.3 L631.70,258.4 L632.20,259.4 L632.50,260.0 L632.63,259.9 L632.70,263.4 L633.20,289.7 L633.33,296.6 L633.70,276.7 L634.03,258.5 L634.17,258.3 L635.70,258.3 L635.83,266.7 L636.20,263.0 L636.67,258.3 L640.00,258.3 L640.20,260.0 L640.70,264.2 L640.97,266.4 L641.20,273.1 L641.67,286.7 L641.70,285.7 L642.20,271.0 L642.37,266.1 L642.70,260.2 L643.00,255.0 L643.20,249.5 L643.38,244.5 L643.70,235.7 L644.20,222.0 L644.33,218.3 L644.70,233.5 L645.13,251.3 L645.20,252.0 L645.28,252.8 L645.70,281.0 L645.83,290.0 L646.20,277.1 L646.53,265.3 L646.67,266.7 L646.70,266.0 L647.20,256.0 L647.50,250.0 L647.70,247.0 L648.17,240.0 L648.20,239.4 L648.67,230.8 L648.70,230.8 L649.20,230.6 L649.67,230.3 L649.70,230.3 L650.20,230.2 L650.70,230.0 L650.83,230.0 L651.20,229.5 L651.70,228.8 L652.00,228.3 L652.20,226.3 L652.38,224.5 L652.70,221.6 L653.20,217.0 L653.33,215.8 L653.70,219.7 L654.20,224.9 L654.28,225.8 L654.67,229.2 L654.70,229.0 L655.20,225.8 L655.33,225.0 L655.70,222.6 L655.83,221.7 L656.20,225.3 L656.50,228.3 L656.70,230.3 L657.00,233.3 L658.00,233.3 L658.00,417.50 Z" fill="#ffc000"/>
<path d="M27.70,417.50 L27.70,417.5 L27.83,264.2 L27.94,263.6 L28.02,269.0 L28.20,266.3 L28.56,260.6 L28.62,259.6 L28.67,259.3 L28.70,259.2 L28.86,258.3 L29.20,257.4 L29.50,256.7 L29.70,256.2 L30.00,255.4 L30.02,255.4 L30.20,256.3 L30.33,256.9 L30.62,258.3 L30.65,258.1 L30.70,257.9 L31.17,255.5 L31.20,255.3 L31.22,255.2 L31.67,255.7 L31.70,255.8 L31.76,256.0 L31.93,258.0 L32.00,258.9 L32.05,259.6 L32.20,261.2 L32.36,263.0 L32.55,261.4 L32.70,260.1 L32.96,257.8 L33.00,257.9 L33.17,258.1 L33.19,258.1 L33.20,258.1 L33.33,258.5 L33.70,258.6 L33.83,258.6 L34.20,258.7 L34.34,258.7 L34.67,258.7 L34.70,258.7 L35.00,258.8 L35.20,259.3 L35.33,259.6 L35.70,417.5 L35.77,417.5 L36.17,258.9 L36.20,258.8 L36.67,256.7 L36.70,256.9 L37.00,258.7 L37.03,258.9 L37.20,261.9 L37.44,266.3 L37.63,270.7 L37.67,270.7 L37.70,270.7 L38.17,270.8 L38.20,270.8 L38.23,270.8 L38.67,276.0 L38.70,275.5 L38.79,273.9 L39.01,270.2 L39.18,268.1 L39.20,268.2 L39.33,269.0 L39.41,268.4 L39.50,267.8 L39.70,266.5 L39.78,265.9 L40.00,256.7 L40.20,253.5 L40.38,250.6 L40.50,250.8 L40.60,417.5 L40.66,250.3 L40.70,250.6 L40.83,251.5 L41.00,255.2 L41.01,255.4 L41.20,259.7 L41.26,261.0 L41.63,256.8 L41.67,256.3 L41.70,256.3 L41.86,256.1 L42.06,259.2 L42.20,262.5 L42.25,263.6 L42.50,269.4 L42.70,270.8 L42.72,271.0 L43.09,277.0 L43.20,278.8 L43.32,280.8 L43.33,280.8 L43.70,276.0 L43.71,275.9 L43.84,274.2 L43.92,273.2 L44.20,272.6 L44.33,272.3 L44.33,272.3 L44.64,272.2 L44.70,272.1 L45.20,271.9 L45.26,271.8 L45.33,271.8 L45.62,272.9 L45.70,273.2 L45.88,273.7 L46.20,274.6 L46.67,275.8 L46.70,275.9 L47.05,276.1 L47.20,417.5 L47.22,417.5 L47.67,275.0 L47.67,275.0 L47.70,274.8 L47.83,274.1 L48.00,274.4 L48.20,274.7 L48.29,274.9 L48.43,275.1 L48.67,271.9 L48.68,271.8 L48.70,271.6 L48.83,270.4 L49.03,268.6 L49.20,268.3 L49.67,267.7 L49.69,267.7 L49.70,267.7 L50.00,268.5 L50.20,269.5 L50.24,269.7 L50.51,275.7 L50.67,417.5 L50.72,417.5 L50.84,282.3 L51.13,277.3 L51.20,276.0 L51.33,273.7 L51.44,271.2 L51.67,270.0 L51.70,269.8 L51.75,269.6 L51.92,268.6 L52.20,268.6 L52.50,268.6 L52.70,269.5 L52.97,417.5 L53.14,270.3 L53.20,270.7 L53.33,271.5 L53.70,273.7 L53.74,273.9 L53.83,273.1 L53.83,273.1 L54.09,270.6 L54.17,269.8 L54.20,269.5 L54.34,268.2 L54.45,267.9 L54.70,267.3 L54.83,267.0 L55.00,266.7 L55.07,266.2 L55.20,265.5 L55.67,262.6 L55.70,262.4 L55.82,261.7 L56.02,262.7 L56.20,264.7 L56.33,266.2 L56.62,269.9 L56.67,270.0 L56.70,270.0 L56.82,417.5 L57.20,266.9 L57.23,266.7 L57.67,265.6 L58.38,265.6 L58.70,266.6 L58.72,266.7 L58.83,269.8 L59.00,274.6 L59.20,280.6 L59.32,284.2 L59.47,417.5 L61.79,417.5 L61.83,282.0 L62.00,282.0 L62.10,282.1 L62.19,283.1 L62.20,283.2 L62.50,286.9 L62.70,289.3 L62.70,289.4 L63.00,286.0 L63.17,283.7 L63.20,283.3 L63.30,281.9 L63.33,281.9 L63.48,283.3 L63.70,287.2 L63.83,289.7 L64.00,292.7 L64.08,294.5 L64.20,294.9 L64.67,296.4 L64.68,296.4 L64.70,296.6 L64.90,299.1 L65.00,299.9 L65.20,300.4 L65.21,300.4 L65.50,301.1 L65.54,301.2 L65.70,306.8 L65.83,311.3 L66.00,317.0 L66.14,321.9 L66.20,320.1 L66.33,316.5 L66.38,315.3 L66.45,313.6 L66.70,307.9 L66.74,307.1 L67.00,309.4 L67.20,311.5 L67.33,312.9 L67.61,417.5 L67.70,316.1 L68.00,317.1 L68.20,318.4 L68.33,319.3 L68.63,321.2 L68.66,321.3 L68.70,322.8 L69.00,335.1 L69.17,339.5 L69.20,340.4 L69.26,342.0 L69.70,321.7 L69.74,319.8 L69.86,315.8 L70.00,316.2 L70.20,315.8 L70.70,314.7 L70.91,417.5 L71.02,417.5 L71.20,313.9 L71.46,314.8 L71.64,316.8 L71.70,317.4 L71.83,318.8 L72.00,320.6 L72.06,320.3 L72.20,317.5 L72.26,316.3 L72.50,311.4 L72.66,308.1 L72.67,308.0 L72.70,307.6 L73.00,303.4 L73.17,304.1 L73.20,304.2 L73.70,306.4 L73.95,307.5 L74.00,308.4 L74.09,308.5 L74.17,309.1 L74.20,309.4 L74.55,312.1 L74.70,309.2 L75.00,303.5 L75.15,300.1 L75.17,299.9 L75.20,299.6 L75.44,417.5 L75.70,293.6 L76.00,289.2 L76.17,289.8 L76.20,290.0 L76.70,291.8 L76.83,292.3 L77.00,292.9 L77.09,291.1 L77.12,291.2 L77.20,291.6 L77.29,292.0 L77.67,293.8 L77.69,293.9 L77.70,293.6 L77.91,284.5 L78.00,280.5 L78.20,274.9 L78.29,272.3 L78.50,271.4 L78.53,271.2 L78.70,270.5 L78.90,269.7 L79.00,269.3 L79.17,270.4 L79.20,270.6 L79.70,274.0 L79.71,274.1 L79.83,276.0 L80.00,278.8 L80.20,279.5 L80.31,279.9 L80.50,276.8 L80.66,274.1 L80.69,273.7 L80.70,273.5 L80.91,270.5 L81.00,270.2 L81.17,269.3 L81.20,269.1 L81.28,268.7 L81.70,266.4 L81.83,265.6 L81.90,265.3 L82.00,264.7 L82.09,417.5 L82.10,417.5 L82.20,267.0 L82.70,270.8 L82.72,270.9 L83.00,273.1 L83.20,270.3 L83.22,270.0 L83.34,271.4 L83.39,272.1 L83.70,278.8 L83.82,281.4 L84.00,276.0 L84.20,270.7 L84.42,265.0 L84.70,264.9 L84.89,264.8 L85.00,264.7 L85.07,417.5 L87.57,417.5 L87.62,281.3 L87.70,282.3 L88.00,286.3 L88.13,288.0 L88.15,287.0 L88.20,284.1 L88.70,257.2 L88.73,255.8 L88.74,255.5 L88.77,255.3 L89.00,253.5 L89.20,252.9 L89.39,252.4 L89.51,252.0 L89.70,251.5 L90.00,250.6 L90.13,253.1 L90.19,417.5 L90.20,417.5 L90.43,256.1 L90.70,265.1 L90.75,266.9 L90.97,274.3 L91.00,275.3 L91.03,276.2 L91.20,272.3 L91.59,263.0 L91.61,262.5 L91.63,262.3 L91.70,263.3 L91.73,263.9 L92.00,271.9 L92.20,275.3 L92.21,275.4 L92.31,277.1 L92.33,277.5 L92.70,417.5 L93.93,417.5 L94.00,271.8 L94.20,260.2 L94.25,257.3 L94.29,256.9 L94.70,253.2 L94.91,251.2 L94.97,250.7 L95.00,250.6 L95.20,250.0 L95.53,249.1 L95.70,248.7 L95.77,248.5 L96.00,251.9 L96.20,254.7 L96.23,255.1 L96.37,257.0 L96.44,255.4 L96.70,249.5 L96.85,246.0 L96.97,243.3 L97.00,243.1 L97.20,245.5 L97.21,245.6 L97.47,255.8 L97.55,259.0 L97.68,264.0 L97.70,264.7 L97.81,269.4 L98.00,267.1 L98.17,265.3 L98.20,265.0 L98.41,262.8 L98.70,267.7 L98.70,267.7 L98.79,270.1 L99.00,275.3 L99.18,417.5 L103.21,417.5 L103.53,248.9 L103.70,248.4 L104.00,247.6 L104.15,247.4 L104.20,247.4 L104.70,246.8 L104.77,246.7 L104.83,246.6 L105.00,247.1 L105.20,247.8 L105.70,249.6 L105.92,250.4 L105.93,250.5 L106.00,253.2 L106.20,261.7 L106.48,417.5 L106.53,275.5 L106.54,275.2 L106.70,269.4 L107.00,258.6 L107.13,254.5 L107.16,254.7 L107.20,254.8 L107.70,257.2 L107.98,258.5 L108.00,258.8 L108.20,262.1 L108.21,262.2 L108.70,288.2 L108.70,288.5 L108.81,294.0 L109.00,290.2 L109.20,282.8 L109.33,278.1 L109.41,275.0 L109.70,417.5 L111.20,417.5 L111.70,260.0 L111.75,259.3 L111.88,257.7 L112.00,259.7 L112.20,265.6 L112.37,270.7 L112.42,272.4 L112.48,274.0 L112.55,272.2 L112.70,268.0 L113.00,259.7 L113.05,258.6 L113.08,257.7 L113.20,258.2 L113.30,258.7 L113.67,269.2 L113.70,270.2 L113.90,275.9 L113.93,275.3 L114.00,274.4 L114.20,271.6 L114.50,267.4 L114.70,269.4 L115.00,272.4 L115.17,417.5 L115.20,417.5 L115.36,274.4 L115.70,279.1 L115.79,280.3 L115.96,282.6 L116.00,282.1 L116.20,280.5 L116.41,278.7 L116.56,277.4 L116.58,277.5 L116.70,278.4 L116.76,278.9 L117.00,283.1 L117.17,286.4 L117.20,287.1 L117.36,290.3 L117.70,289.7 L117.83,289.5 L117.89,289.4 L117.96,289.5 L118.00,289.9 L118.20,292.3 L118.33,293.9 L118.58,296.9 L118.70,299.8 L118.83,302.9 L119.00,307.1 L119.18,310.7 L119.20,310.7 L119.44,309.8 L119.51,309.6 L119.70,307.9 L119.78,307.2 L119.94,307.7 L120.00,309.5 L120.06,310.8 L120.20,313.5 L120.30,315.4 L120.54,320.1 L120.70,314.7 L120.92,307.2 L121.00,304.5 L121.04,303.9 L121.14,302.8 L121.17,303.3 L121.20,303.8 L121.54,309.3 L121.70,311.9 L122.00,316.8 L122.17,315.3 L122.20,315.0 L122.38,313.4 L122.70,310.0 L123.00,306.9 L123.20,309.7 L123.33,311.6 L123.67,316.4 L123.70,317.0 L124.00,321.5 L124.20,319.6 L124.50,316.7 L124.70,314.7 L125.00,311.8 L125.09,312.7 L125.20,313.6 L125.26,314.1 L125.33,314.6 L125.70,327.5 L125.83,332.1 L125.88,333.7 L125.93,335.4 L126.00,334.0 L126.20,326.5 L126.47,316.4 L126.50,315.3 L126.53,314.2 L126.70,312.1 L126.83,310.5 L127.00,308.4 L127.20,308.6 L127.70,309.1 L128.00,309.4 L128.09,308.5 L128.20,310.9 L128.20,310.9 L128.69,321.2 L128.70,320.9 L129.00,307.0 L129.20,300.0 L129.29,296.8 L129.62,296.4 L129.70,296.4 L129.75,296.3 L129.83,297.0 L130.00,286.6 L130.20,291.8 L130.24,292.9 L130.50,299.6 L130.70,304.7 L130.86,309.0 L131.00,312.5 L131.04,313.5 L131.20,316.7 L131.30,318.8 L131.33,318.1 L131.70,310.2 L132.20,299.4 L132.28,297.6 L132.33,296.5 L132.52,292.4 L132.70,293.9 L132.73,294.2 L132.90,295.2 L133.20,296.9 L133.33,297.6 L133.52,298.7 L133.70,299.7 L133.85,300.5 L133.97,299.0 L134.20,295.9 L134.33,294.1 L134.70,289.0 L134.99,285.0 L135.11,285.2 L135.20,286.7 L135.33,288.9 L135.70,295.0 L136.20,303.2 L136.20,303.3 L136.62,305.4 L136.67,304.7 L136.70,304.3 L136.80,302.9 L137.20,297.4 L137.42,294.4 L137.56,292.4 L137.69,290.8 L137.70,290.9 L138.00,296.2 L138.04,296.9 L138.20,299.8 L138.70,308.6 L138.84,311.0 L139.17,313.9 L139.20,314.2 L139.21,314.3 L139.70,300.5 L139.84,296.7 L139.97,292.8 L140.06,291.2 L140.20,292.9 L140.33,294.6 L140.46,296.1 L140.70,299.2 L141.08,303.9 L141.20,305.5 L141.48,309.0 L141.67,311.7 L141.70,312.2 L141.72,312.5 L142.12,307.3 L142.20,306.2 L142.50,302.3 L142.57,301.4 L142.70,299.2 L142.74,298.6 L143.07,292.9 L143.17,295.5 L143.20,296.4 L143.35,300.6 L143.70,310.0 L143.83,313.6 L143.90,315.3 L144.15,309.4 L144.20,308.1 L144.67,296.5 L144.70,295.7 L144.76,294.2 L145.20,299.3 L145.55,303.3 L145.70,304.9 L145.79,305.9 L145.83,305.5 L146.20,302.4 L146.70,298.2 L147.00,295.7 L147.00,295.6 L147.08,296.6 L147.20,298.0 L147.70,304.1 L148.00,307.7 L148.20,310.2 L148.55,314.5 L148.70,312.5 L148.75,311.9 L149.17,305.2 L149.20,304.6 L149.70,296.6 L149.76,295.7 L149.93,293.0 L150.00,293.7 L150.20,295.6 L150.34,297.0 L150.38,297.4 L150.70,301.8 L150.83,303.6 L151.00,305.9 L151.20,308.6 L151.32,310.2 L151.67,306.5 L151.70,306.1 L151.91,303.9 L152.20,300.8 L152.38,299.0 L152.70,303.4 L152.83,305.2 L153.20,310.1 L153.49,314.1 L153.70,316.0 L154.06,319.3 L154.17,317.1 L154.20,316.4 L154.59,308.3 L154.70,306.5 L155.20,298.7 L155.33,296.6 L155.49,294.1 L155.58,295.8 L155.70,297.9 L156.19,306.6 L156.20,306.8 L156.20,306.9 L156.33,308.9 L156.50,311.7 L156.70,309.2 L156.82,307.6 L157.20,302.8 L157.38,300.5 L157.50,302.9 L157.70,417.5 L157.91,417.5 L158.20,316.2 L158.33,318.6 L158.54,322.3 L158.70,319.3 L159.20,309.9 L159.33,307.4 L159.33,307.4 L159.53,303.8 L159.69,300.0 L159.70,300.0 L159.95,299.5 L160.20,299.0 L160.33,298.8 L160.57,298.3 L160.70,298.0 L161.20,297.0 L161.25,296.9 L161.28,296.6 L161.33,296.6 L161.70,296.9 L162.20,297.3 L162.24,297.4 L162.33,299.7 L162.67,308.1 L162.70,308.6 L163.20,316.6 L163.33,318.7 L163.47,320.8 L163.70,313.8 L164.11,301.7 L164.19,299.2 L164.20,299.0 L164.50,292.2 L164.62,289.4 L164.70,291.2 L164.73,291.9 L165.17,302.5 L165.20,303.3 L165.35,306.8 L165.58,312.4 L165.70,313.8 L165.83,315.3 L165.99,317.1 L166.15,311.5 L166.20,309.8 L166.67,293.8 L166.70,292.7 L166.72,292.2 L166.77,290.6 L167.04,282.8 L167.20,286.8 L167.39,291.4 L167.67,298.2 L167.70,299.0 L168.09,308.5 L168.14,310.3 L168.20,309.6 L168.67,304.0 L168.70,303.6 L169.15,298.3 L169.17,298.0 L169.20,297.3 L169.50,290.8 L169.62,288.3 L169.70,289.4 L169.77,290.2 L170.20,295.6 L170.39,298.0 L170.53,299.8 L170.64,301.3 L170.70,300.8 L170.78,300.1 L170.83,299.7 L171.20,296.5 L171.40,294.8 L171.51,293.8 L171.67,296.5 L171.70,297.1 L172.02,302.7 L172.20,305.8 L172.27,306.9 L172.48,310.9 L172.50,310.5 L172.70,307.2 L173.20,299.0 L173.33,296.8 L173.56,293.1 L173.68,291.2 L173.70,291.5 L174.17,297.1 L174.20,297.5 L174.70,303.6 L174.92,306.2 L175.00,306.9 L175.13,308.0 L175.20,307.3 L175.70,301.5 L176.00,298.1 L176.20,295.8 L176.23,295.4 L176.36,293.9 L176.51,292.0 L176.70,294.1 L176.85,295.9 L177.00,297.5 L177.20,299.8 L177.47,302.9 L177.69,305.3 L177.70,305.2 L177.93,302.9 L178.00,302.5 L178.20,301.5 L178.70,298.9 L178.74,298.7 L178.94,300.6 L179.00,301.2 L179.20,303.0 L179.49,305.8 L179.56,306.2 L179.70,307.1 L180.00,309.0 L180.18,310.1 L180.20,310.3 L180.25,310.6 L180.66,306.2 L180.70,305.8 L181.00,302.5 L181.20,300.3 L181.23,300.0 L181.28,299.4 L181.70,294.2 L181.84,292.5 L181.90,293.8 L182.00,296.0 L182.20,300.5 L182.70,311.5 L182.74,312.3 L183.00,319.2 L183.00,319.1 L183.20,315.5 L183.67,307.1 L183.70,306.5 L183.82,304.3 L184.20,296.7 L184.37,293.3 L184.47,294.2 L184.67,296.3 L184.70,296.6 L184.93,299.0 L185.09,299.2 L185.20,299.3 L185.50,299.7 L185.70,300.0 L185.71,300.0 L186.05,300.5 L186.20,297.8 L186.33,295.4 L186.47,292.8 L186.70,292.3 L187.09,291.5 L187.20,293.5 L187.49,298.6 L187.50,298.9 L187.70,302.5 L187.74,303.3 L188.10,306.2 L188.19,306.8 L188.20,306.6 L188.67,295.9 L188.70,295.1 L188.72,294.5 L189.05,287.1 L189.07,286.7 L189.20,288.0 L189.70,292.9 L190.00,295.8 L190.20,297.8 L190.21,297.9 L190.39,299.7 L190.70,295.8 L191.17,289.8 L191.20,289.4 L191.28,288.4 L191.70,282.9 L191.73,282.6 L191.90,286.1 L191.91,286.5 L192.17,293.4 L192.20,294.3 L192.51,303.0 L192.70,308.0 L192.94,314.5 L193.20,310.1 L193.33,308.0 L193.33,307.9 L193.70,302.0 L194.17,294.4 L194.20,294.7 L194.33,296.4 L194.44,297.6 L194.46,297.7 L194.70,298.9 L195.08,300.7 L195.20,301.3 L195.33,301.9 L195.70,303.6 L195.74,303.8 L195.75,303.7 L196.05,299.7 L196.20,297.7 L196.33,295.9 L196.67,291.3 L196.69,291.1 L196.70,291.1 L197.20,291.8 L197.29,292.0 L197.33,292.0 L197.41,292.1 L197.49,292.6 L197.70,294.0 L198.11,296.5 L198.20,297.1 L198.22,297.2 L198.33,295.9 L198.70,291.8 L198.73,291.5 L198.78,290.9 L199.17,285.1 L199.20,284.6 L199.20,284.6 L199.70,285.9 L200.06,286.7 L200.20,287.2 L200.33,287.6 L200.70,288.8 L200.83,289.2 L201.20,286.1 L201.33,285.0 L201.61,282.7 L201.70,283.1 L202.20,285.4 L202.48,286.7 L202.50,287.2 L202.70,291.1 L202.70,291.2 L203.20,293.4 L203.47,294.5 L203.67,295.4 L203.70,295.5 L203.82,296.0 L204.09,288.4 L204.13,287.3 L204.20,285.6 L204.67,274.8 L204.70,274.0 L204.71,273.9 L204.72,273.5 L205.20,278.4 L205.70,283.5 L205.83,284.8 L205.92,285.7 L206.20,288.8 L206.26,289.5 L206.38,290.8 L206.67,287.9 L206.70,287.6 L206.88,285.9 L207.00,284.7 L207.20,283.5 L207.50,281.6 L207.50,281.6 L207.70,280.4 L207.80,279.8 L208.17,286.7 L208.20,287.3 L208.33,290.0 L208.70,297.5 L209.17,307.1 L209.20,307.7 L209.23,308.4 L209.34,308.8 L209.70,297.4 L210.00,288.0 L210.20,281.7 L210.41,275.2 L210.57,275.0 L210.70,277.5 L210.83,280.1 L211.20,287.4 L211.70,297.4 L211.81,299.5 L211.85,299.7 L212.00,298.0 L212.20,295.6 L212.70,289.7 L212.86,287.9 L212.93,288.5 L213.00,289.2 L213.20,291.2 L213.36,292.8 L213.55,295.5 L213.70,297.5 L214.17,303.9 L214.17,304.0 L214.20,304.4 L214.42,307.4 L214.43,307.3 L214.70,301.3 L215.07,293.2 L215.17,291.0 L215.20,290.3 L215.48,284.1 L215.69,283.8 L215.70,283.8 L216.13,283.2 L216.20,283.9 L216.31,284.9 L216.33,285.2 L216.47,286.5 L216.70,285.6 L217.00,284.4 L217.20,283.6 L217.52,282.3 L217.53,282.6 L217.67,284.9 L217.70,285.5 L218.20,293.9 L218.33,296.2 L218.38,297.0 L218.54,295.8 L218.70,294.7 L219.08,291.9 L219.16,290.7 L219.20,290.2 L219.33,288.1 L219.52,285.3 L219.70,287.3 L219.78,288.2 L220.00,290.4 L220.20,292.5 L220.39,294.6 L220.44,295.3 L220.70,293.3 L220.83,292.2 L221.20,289.2 L221.70,285.2 L221.93,283.4 L222.00,282.9 L222.04,282.7 L222.20,284.8 L222.70,291.4 L222.78,292.5 L223.20,298.0 L223.33,299.7 L223.38,300.4 L223.40,300.7 L223.42,301.1 L223.70,297.5 L224.02,293.3 L224.20,291.0 L224.33,289.2 L224.70,284.4 L224.75,283.8 L225.05,289.8 L225.17,291.1 L225.20,291.4 L225.59,295.7 L225.70,294.9 L225.83,293.9 L226.20,291.0 L226.56,288.2 L226.67,288.2 L226.70,288.3 L227.11,288.4 L227.20,288.5 L227.33,289.7 L227.69,292.9 L227.70,292.8 L227.73,292.7 L228.00,291.5 L228.20,290.6 L228.35,289.9 L228.67,288.4 L228.70,288.3 L228.85,287.6 L229.00,285.3 L229.20,283.9 L229.33,283.0 L229.70,280.5 L230.03,278.2 L230.20,277.9 L230.22,277.9 L230.33,279.6 L230.70,285.2 L231.00,289.7 L231.20,292.8 L231.67,299.9 L231.68,300.0 L231.70,299.9 L231.79,299.4 L232.20,295.3 L232.33,294.0 L232.70,290.4 L233.00,287.5 L233.20,285.5 L233.29,284.6 L233.36,284.2 L233.67,285.5 L233.70,285.6 L234.00,286.9 L234.17,287.7 L234.20,290.2 L234.32,284.9 L234.58,273.9 L234.67,271.7 L234.70,270.8 L235.00,263.1 L235.18,258.4 L235.20,257.3 L235.33,249.3 L235.56,236.1 L235.70,228.4 L235.78,223.8 L236.17,208.3 L236.19,207.7 L236.20,207.2 L236.67,190.9 L236.70,192.5 L236.81,197.9 L237.20,218.2 L237.31,223.5 L237.31,223.9 L237.33,226.1 L237.41,230.7 L237.67,245.7 L237.70,247.6 L237.91,259.6 L237.91,260.0 L238.03,254.6 L238.20,247.0 L238.33,240.9 L238.50,231.8 L238.51,231.4 L238.65,231.3 L238.70,231.2 L239.17,230.6 L239.20,230.6 L239.49,230.2 L239.67,230.0 L239.70,230.4 L240.11,235.2 L240.11,235.2 L240.20,236.2 L240.33,237.8 L240.67,241.7 L240.70,242.9 L240.71,243.2 L240.73,244.1 L241.20,261.2 L241.29,264.5 L241.31,266.6 L241.61,296.7 L241.67,302.8 L241.70,303.8 L241.89,417.5 L241.98,299.5 L242.20,277.4 L242.23,274.8 L242.49,248.2 L242.58,244.8 L242.67,241.7 L242.70,240.6 L242.85,235.7 L243.00,230.6 L243.18,224.5 L243.20,223.9 L243.66,208.4 L243.67,208.3 L243.70,207.3 L244.17,192.3 L244.20,191.3 L244.28,188.5 L244.49,182.0 L244.50,181.7 L244.70,194.7 L244.91,208.0 L245.09,220.0 L245.17,225.0 L245.20,226.2 L245.29,229.3 L245.33,231.0 L245.69,243.8 L245.70,244.2 L245.91,251.6 L246.00,255.0 L246.20,257.7 L246.25,258.4 L246.33,260.9 L246.53,266.9 L246.70,272.3 L246.85,277.1 L247.00,276.4 L247.20,273.6 L247.45,270.0 L247.50,270.2 L247.70,271.0 L248.11,272.5 L248.20,272.8 L248.33,273.3 L248.67,262.8 L248.70,261.7 L248.73,260.8 L249.20,245.9 L249.33,241.7 L249.35,241.1 L249.70,227.0 L250.00,215.0 L250.12,220.6 L250.20,224.0 L250.27,227.0 L250.67,245.0 L250.70,245.8 L250.74,246.8 L250.87,249.7 L251.12,255.6 L251.20,259.3 L251.33,265.5 L251.36,266.9 L251.47,271.6 L251.67,280.9 L251.70,281.0 L251.72,281.1 L252.20,260.4 L252.32,255.3 L252.38,254.0 L252.42,253.3 L252.50,251.7 L252.70,247.7 L252.99,242.0 L253.00,241.7 L253.04,242.1 L253.20,244.0 L253.59,248.4 L253.66,249.2 L253.66,249.2 L253.67,249.4 L253.70,250.2 L254.17,262.0 L254.20,262.8 L254.26,264.3 L254.70,263.3 L254.86,262.9 L255.00,264.5 L255.10,265.7 L255.16,266.3 L255.20,266.8 L255.33,268.3 L255.70,256.6 L255.78,254.2 L256.17,241.7 L256.20,240.9 L256.30,238.6 L256.33,237.8 L256.39,236.3 L256.67,230.0 L256.68,230.2 L256.70,230.6 L257.20,239.6 L257.30,241.4 L257.33,242.0 L257.50,245.0 L257.70,253.8 L257.92,263.5 L258.20,275.8 L258.29,279.9 L258.33,281.7 L258.70,273.1 L258.89,268.6 L259.17,262.2 L259.20,261.4 L259.33,258.3 L259.49,264.7 L259.70,273.0 L259.79,276.6 L260.00,285.0 L260.20,280.3 L260.33,277.2 L260.41,275.5 L260.70,268.7 L261.00,261.7 L261.16,259.1 L261.20,258.3 L261.33,256.1 L261.66,250.6 L261.69,250.5 L261.70,250.5 L261.76,250.3 L262.00,249.6 L262.20,250.7 L262.26,251.0 L262.31,250.1 L262.36,249.0 L262.50,245.8 L262.70,241.4 L262.86,237.8 L262.93,237.3 L263.00,236.7 L263.20,239.3 L263.67,245.6 L263.70,246.0 L263.97,249.6 L264.00,250.6 L264.20,252.9 L264.49,256.2 L264.57,257.1 L264.70,253.4 L265.00,245.0 L265.11,240.4 L265.17,237.8 L265.20,237.0 L265.70,225.3 L265.73,224.7 L266.00,218.3 L266.20,215.8 L266.33,214.2 L266.67,210.0 L266.69,210.1 L266.70,210.1 L266.74,210.3 L266.90,213.2 L267.20,218.8 L267.29,220.4 L267.34,221.5 L267.52,219.4 L267.67,217.6 L267.70,217.7 L267.88,217.9 L267.94,218.0 L268.14,221.2 L268.20,222.2 L268.31,224.1 L268.67,230.0 L268.70,230.8 L268.93,236.6 L269.00,238.3 L269.20,243.3 L269.55,252.1 L269.64,254.3 L269.67,255.9 L269.68,256.5 L269.70,257.1 L270.17,273.8 L270.20,275.0 L270.24,276.3 L270.28,275.2 L270.33,274.0 L270.70,265.0 L270.79,262.9 L270.83,261.8 L270.84,261.6 L270.88,260.9 L271.20,256.4 L271.41,253.5 L271.53,251.7 L271.60,250.8 L271.67,250.7 L271.67,250.7 L271.70,250.6 L272.00,250.3 L272.15,248.7 L272.20,248.3 L272.20,248.1 L272.27,245.6 L272.70,229.9 L272.77,227.3 L272.80,226.4 L272.87,224.7 L273.00,221.7 L273.20,218.5 L273.24,217.9 L273.70,210.5 L273.83,208.3 L273.84,208.5 L273.86,209.3 L274.17,224.0 L274.20,225.5 L274.44,236.8 L274.48,237.0 L274.67,237.9 L274.70,238.5 L275.00,243.6 L275.04,244.2 L275.20,250.4 L275.67,268.3 L275.70,267.3 L276.00,258.3 L276.02,257.9 L276.20,252.3 L276.33,248.5 L276.64,239.3 L276.67,238.3 L276.70,238.9 L276.93,242.7 L277.20,247.2 L277.26,248.2 L277.33,249.4 L277.44,251.2 L277.53,252.7 L277.67,255.0 L277.70,254.0 L278.06,243.3 L278.20,239.0 L278.50,230.0 L278.67,226.8 L278.68,226.6 L278.70,226.2 L279.20,216.7 L279.20,216.6 L279.33,214.2 L279.61,224.6 L279.70,227.7 L279.82,232.4 L280.00,238.8 L280.17,245.0 L280.20,246.1 L280.21,246.5 L280.37,251.5 L280.44,255.7 L280.70,270.2 L280.81,276.6 L280.97,285.5 L281.00,285.7 L281.20,270.8 L281.33,260.9 L281.43,253.7 L281.57,243.1 L281.70,236.7 L281.83,230.0 L282.05,225.1 L282.20,221.7 L282.23,221.0 L282.33,218.8 L282.67,211.2 L282.70,210.5 L282.83,207.5 L282.92,209.3 L283.20,215.2 L283.33,218.0 L283.43,220.1 L283.54,222.3 L283.67,225.0 L283.70,225.2 L284.16,228.0 L284.20,228.2 L284.50,230.0 L284.67,227.0 L284.70,226.4 L285.20,217.4 L285.33,215.0 L285.62,226.3 L285.70,229.7 L285.83,235.0 L286.00,241.7 L286.20,251.3 L286.24,252.9 L286.70,275.3 L286.83,281.7 L286.86,280.3 L287.00,271.3 L287.20,258.9 L287.67,230.0 L287.70,229.2 L287.72,228.7 L288.07,220.3 L288.20,217.3 L288.32,214.5 L288.33,214.2 L288.69,226.1 L288.70,226.3 L288.84,230.9 L288.92,238.4 L289.17,261.3 L289.20,263.7 L289.31,271.7 L289.44,280.6 L289.61,272.3 L289.67,269.2 L289.70,267.6 L290.00,252.5 L290.04,249.0 L290.20,245.2 L290.21,245.1 L290.42,239.9 L290.70,233.2 L290.81,230.7 L290.83,230.0 L291.04,232.1 L291.20,233.7 L291.66,238.3 L291.67,238.3 L291.70,237.8 L292.00,233.0 L292.05,232.2 L292.20,229.8 L292.50,225.0 L292.65,228.8 L292.67,229.3 L292.70,230.0 L293.00,237.5 L293.17,241.7 L293.20,242.6 L293.25,244.0 L293.29,245.0 L293.67,255.1 L293.70,262.0 L293.83,289.9 L293.91,306.3 L294.00,417.5 L296.70,417.5 L297.02,305.7 L297.20,300.4 L297.33,296.7 L297.64,291.6 L297.70,290.6 L298.06,284.5 L298.20,282.2 L298.33,280.0 L298.70,275.1 L298.75,274.5 L299.20,268.4 L299.33,266.7 L299.37,267.4 L299.70,274.6 L299.70,274.6 L299.99,280.9 L300.00,281.1 L300.20,285.4 L300.33,288.3 L300.62,291.2 L300.70,292.0 L301.00,295.0 L301.20,297.0 L301.24,297.4 L301.32,298.2 L301.33,298.3 L301.70,296.5 L302.17,294.2 L302.20,294.0 L302.33,293.3 L302.54,292.8 L302.70,292.4 L303.20,291.2 L303.33,290.8 L303.70,293.6 L303.92,295.2 L304.20,297.3 L304.33,298.3 L304.35,298.4 L304.70,300.2 L304.83,300.8 L304.97,301.5 L305.17,302.5 L305.20,302.7 L305.33,303.3 L305.59,301.6 L305.70,300.9 L305.86,299.8 L306.00,298.9 L306.20,297.6 L306.33,296.7 L306.70,295.8 L307.00,295.0 L307.15,294.6 L307.17,294.6 L307.20,294.5 L307.67,293.3 L307.70,293.3 L307.77,293.3 L308.00,293.1 L308.18,293.0 L308.20,293.0 L308.39,292.9 L308.70,292.7 L308.83,292.6 L309.00,292.5 L309.20,292.6 L309.70,292.9 L309.79,293.0 L309.83,293.0 L310.01,293.1 L310.20,293.2 L310.33,293.3 L310.63,293.7 L310.70,293.8 L310.74,293.8 L310.83,294.0 L311.20,294.4 L311.25,294.5 L311.67,295.0 L311.68,295.0 L311.70,295.2 L311.83,295.8 L312.00,296.7 L312.20,297.7 L312.60,299.7 L312.62,299.8 L312.70,300.2 L313.00,301.7 L313.20,301.0 L313.24,300.9 L313.39,300.4 L313.70,299.3 L314.00,298.3 L314.01,298.3 L314.17,297.9 L314.20,297.8 L314.63,296.7 L314.67,296.7 L314.70,297.0 L315.18,301.8 L315.20,302.0 L315.50,305.0 L315.70,306.6 L315.87,307.9 L316.20,310.6 L316.33,417.5 L658.00,417.5 L658.00,417.50 Z" fill="#385723"/>
<path d="M27.70,417.50 L27.70,265.0 L27.83,264.8 L27.94,264.6 L28.02,270.5 L28.20,268.5 L28.56,264.4 L28.62,263.6 L28.67,263.6 L28.70,263.5 L28.86,263.3 L29.20,262.8 L29.50,262.4 L29.70,262.1 L30.00,261.7 L30.02,261.7 L30.20,262.7 L30.33,263.5 L30.62,265.2 L30.65,265.0 L30.70,264.7 L31.17,261.4 L31.20,261.2 L31.22,261.1 L31.67,260.8 L31.70,260.9 L31.76,260.9 L31.93,262.7 L32.00,263.4 L32.05,264.0 L32.20,265.6 L32.36,267.3 L32.55,265.8 L32.70,264.4 L32.96,262.1 L33.00,262.2 L33.17,262.3 L33.19,262.4 L33.20,262.4 L33.33,262.5 L33.70,261.9 L33.83,261.8 L34.20,261.2 L34.34,261.0 L34.67,260.5 L34.70,260.4 L35.00,260.0 L35.20,260.2 L35.33,260.3 L35.70,260.7 L35.77,260.8 L36.17,261.2 L36.20,261.2 L36.67,261.7 L36.70,262.1 L37.00,265.6 L37.03,265.9 L37.20,269.9 L37.44,275.6 L37.63,280.0 L37.70,280.0 L38.17,279.9 L38.23,279.9 L38.67,285.0 L38.70,284.4 L38.79,282.8 L39.01,279.1 L39.18,276.0 L39.20,276.0 L39.33,276.0 L39.41,275.1 L39.50,274.0 L39.70,271.5 L39.78,270.5 L40.00,260.0 L40.20,255.7 L40.38,251.8 L40.50,251.3 L40.60,250.9 L40.66,250.7 L40.70,251.3 L40.83,253.0 L41.00,257.8 L41.01,258.1 L41.20,263.6 L41.26,265.2 L41.63,263.4 L41.67,263.2 L41.70,263.4 L41.86,264.2 L42.06,268.6 L42.20,271.7 L42.25,272.8 L42.50,278.3 L42.70,279.5 L42.72,279.7 L43.09,285.3 L43.20,286.9 L43.32,288.8 L43.33,288.7 L43.70,283.5 L43.71,283.4 L43.84,281.6 L43.92,280.4 L44.20,279.0 L44.33,278.3 L44.33,278.3 L44.64,277.3 L44.70,277.1 L45.20,275.4 L45.26,275.2 L45.33,275.0 L45.62,275.4 L45.70,275.5 L45.88,275.7 L46.20,276.1 L46.67,276.7 L46.70,276.6 L47.05,276.3 L47.20,276.2 L47.22,276.2 L47.67,275.8 L47.67,275.8 L47.70,275.7 L47.83,275.1 L48.00,275.8 L48.20,276.5 L48.29,276.8 L48.43,277.3 L48.67,274.5 L48.68,274.4 L48.70,274.2 L48.83,273.1 L49.03,271.4 L49.20,271.3 L49.67,271.0 L49.69,271.0 L49.70,271.0 L50.00,270.8 L50.20,271.2 L50.24,271.3 L50.51,276.3 L50.67,279.3 L50.70,280.0 L50.72,280.3 L50.84,282.7 L51.13,278.3 L51.20,277.2 L51.33,275.2 L51.44,273.0 L51.67,272.4 L51.70,272.3 L51.75,272.1 L51.92,271.6 L52.20,270.9 L52.50,270.0 L52.70,270.2 L52.97,270.6 L53.14,270.8 L53.20,271.4 L53.33,272.5 L53.70,275.8 L53.74,276.1 L53.83,275.5 L53.83,275.5 L54.09,273.7 L54.17,273.2 L54.20,273.0 L54.34,272.0 L54.45,272.1 L54.70,272.3 L54.83,272.4 L55.00,272.5 L55.07,272.3 L55.20,271.9 L55.67,270.4 L55.70,270.3 L55.82,269.9 L56.02,269.3 L56.20,269.8 L56.33,270.2 L56.62,271.5 L56.67,271.2 L56.70,271.0 L56.82,270.1 L57.20,267.4 L57.23,267.2 L57.67,266.7 L57.70,266.7 L58.20,267.3 L58.38,267.6 L58.70,268.0 L58.72,268.0 L58.83,271.0 L59.00,275.5 L59.20,281.1 L59.32,284.5 L59.47,281.1 L59.67,276.5 L59.70,275.8 L59.92,270.6 L60.00,270.8 L60.20,272.0 L60.44,273.4 L60.50,275.5 L60.66,281.0 L60.70,282.3 L60.95,290.7 L61.00,292.5 L61.04,293.8 L61.17,291.0 L61.20,290.3 L61.57,282.4 L61.64,280.9 L61.70,281.3 L61.79,282.0 L61.83,282.2 L62.00,283.3 L62.10,284.0 L62.19,285.6 L62.20,285.8 L62.50,291.4 L62.70,295.1 L62.70,295.2 L63.00,293.6 L63.17,292.5 L63.20,292.2 L63.30,291.5 L63.33,291.6 L63.48,292.4 L63.70,295.5 L63.83,297.4 L64.00,299.8 L64.08,301.2 L64.20,301.1 L64.67,300.7 L64.68,300.7 L64.70,300.8 L64.90,302.5 L65.00,303.3 L65.20,304.0 L65.21,304.0 L65.50,305.0 L65.54,305.1 L65.70,310.8 L65.83,315.4 L66.00,321.3 L66.14,326.2 L66.20,324.5 L66.33,321.0 L66.38,319.8 L66.45,317.9 L66.70,311.3 L66.74,310.3 L67.00,311.7 L67.20,313.0 L67.33,313.9 L67.61,315.8 L67.70,316.3 L68.00,318.3 L68.20,320.3 L68.33,321.6 L68.63,324.4 L68.66,324.8 L68.70,326.5 L69.00,340.3 L69.17,345.6 L69.20,346.7 L69.26,348.6 L69.70,330.7 L69.74,328.9 L69.86,324.0 L70.00,323.3 L70.20,321.3 L70.70,316.3 L70.91,314.3 L71.00,313.3 L71.02,313.4 L71.20,314.3 L71.46,315.6 L71.64,317.8 L71.70,318.5 L71.83,320.2 L72.00,322.2 L72.06,321.9 L72.20,319.4 L72.26,318.2 L72.50,313.7 L72.66,310.6 L72.67,310.6 L72.70,310.2 L73.00,306.7 L73.17,307.8 L73.20,308.0 L73.70,311.3 L73.95,313.0 L74.00,314.0 L74.09,314.4 L74.17,314.6 L74.20,314.7 L74.55,316.0 L74.70,312.4 L75.00,305.3 L75.15,301.4 L75.17,301.1 L75.20,300.7 L75.44,297.5 L75.70,294.0 L76.00,290.0 L76.17,290.8 L76.20,291.0 L76.70,293.5 L76.83,294.2 L77.00,295.0 L77.09,293.3 L77.12,293.5 L77.20,293.9 L77.29,294.4 L77.67,296.6 L77.69,296.7 L77.70,296.4 L77.91,287.6 L78.00,283.7 L78.20,278.2 L78.29,275.7 L78.50,275.0 L78.53,274.9 L78.70,274.3 L78.90,273.7 L79.00,273.3 L79.17,274.4 L79.20,274.7 L79.70,278.0 L79.71,278.1 L79.83,280.1 L80.00,282.9 L80.20,283.6 L80.31,283.9 L80.50,280.8 L80.66,278.2 L80.69,277.7 L80.70,277.5 L80.91,273.9 L81.00,273.3 L81.17,271.9 L81.20,271.7 L81.28,271.0 L81.70,267.5 L81.83,266.4 L81.90,265.9 L82.00,265.0 L82.09,266.2 L82.10,266.3 L82.20,267.7 L82.70,274.3 L82.72,274.5 L83.00,278.3 L83.20,276.7 L83.22,276.5 L83.34,278.6 L83.39,279.5 L83.70,284.9 L83.82,287.0 L84.00,280.8 L84.20,274.6 L84.42,267.9 L84.70,266.5 L84.89,265.5 L85.00,265.0 L85.07,266.2 L85.20,268.7 L85.36,271.6 L85.51,276.4 L85.70,282.3 L85.96,290.5 L86.00,290.7 L86.13,289.4 L86.20,288.8 L86.29,287.9 L86.38,287.0 L86.56,285.2 L86.70,285.7 L87.00,286.7 L87.00,286.6 L87.20,284.0 L87.53,279.6 L87.57,280.6 L87.62,281.6 L87.70,283.2 L88.00,289.2 L88.13,291.8 L88.15,290.9 L88.20,288.4 L88.70,264.9 L88.73,263.6 L88.74,263.4 L88.77,263.1 L89.00,260.0 L89.20,258.3 L89.39,256.8 L89.51,255.7 L89.70,254.2 L90.00,251.7 L90.13,253.5 L90.19,254.2 L90.20,254.3 L90.43,257.4 L90.70,268.0 L90.75,270.2 L90.97,278.7 L91.00,279.9 L91.03,281.0 L91.20,278.0 L91.59,271.0 L91.61,270.6 L91.63,270.3 L91.70,270.8 L91.73,271.1 L92.00,277.2 L92.20,279.1 L92.21,279.2 L92.31,280.1 L92.33,280.3 L92.70,273.2 L92.71,273.0 L92.93,268.8 L92.93,268.7 L93.00,268.3 L93.05,267.9 L93.20,274.0 L93.55,288.2 L93.65,292.4 L93.70,289.5 L93.93,276.5 L94.00,272.3 L94.20,261.8 L94.25,259.2 L94.29,259.0 L94.70,257.7 L94.91,257.0 L94.97,256.8 L95.00,256.7 L95.20,256.0 L95.53,254.9 L95.70,254.3 L95.77,254.1 L96.00,257.5 L96.20,260.1 L96.23,260.5 L96.37,262.3 L96.44,260.7 L96.70,254.8 L96.85,251.2 L96.97,248.5 L97.00,248.3 L97.20,250.7 L97.21,250.8 L97.47,261.0 L97.55,264.1 L97.68,269.1 L97.70,269.8 L97.81,274.1 L98.00,271.2 L98.17,268.8 L98.20,268.4 L98.41,265.5 L98.70,269.3 L98.70,269.3 L98.79,271.4 L99.00,275.9 L99.18,276.9 L99.20,277.0 L99.30,277.6 L99.70,272.8 L99.88,270.6 L99.90,270.3 L100.00,270.0 L100.08,268.9 L100.20,269.1 L100.50,269.6 L100.54,269.7 L100.69,270.0 L100.70,269.5 L101.00,261.0 L101.12,258.6 L101.20,257.0 L101.28,255.2 L101.45,254.4 L101.66,253.4 L101.70,254.2 L101.86,257.6 L102.00,260.5 L102.07,262.3 L102.20,265.5 L102.26,267.0 L102.69,255.1 L102.70,254.8 L102.86,250.2 L103.00,250.0 L103.20,249.8 L103.21,249.8 L103.53,249.6 L103.70,249.4 L104.00,249.2 L104.15,249.3 L104.20,249.3 L104.70,249.8 L104.77,249.8 L104.83,249.9 L105.00,250.0 L105.20,250.3 L105.70,251.2 L105.92,251.5 L105.93,251.6 L106.00,254.1 L106.20,262.3 L106.48,273.5 L106.53,275.8 L106.54,275.5 L106.70,270.6 L107.00,261.4 L107.13,258.0 L107.16,258.3 L107.20,258.7 L107.70,263.7 L107.98,266.5 L108.00,266.7 L108.20,269.0 L108.21,269.1 L108.70,292.8 L108.70,293.1 L108.81,298.1 L109.00,293.4 L109.20,285.1 L109.33,279.8 L109.41,276.3 L109.70,274.9 L109.70,274.8 L109.90,273.8 L109.94,274.2 L110.00,274.6 L110.20,276.2 L110.50,278.7 L110.70,275.1 L111.00,269.6 L111.10,267.3 L111.13,267.0 L111.14,267.0 L111.20,266.3 L111.70,261.3 L111.75,260.8 L111.88,259.5 L112.00,261.8 L112.20,268.2 L112.37,273.7 L112.42,275.5 L112.48,277.3 L112.55,275.7 L112.70,271.7 L113.00,264.0 L113.05,263.0 L113.08,262.2 L113.20,263.0 L113.30,263.7 L113.67,274.9 L113.70,276.0 L113.90,282.1 L113.93,281.5 L114.00,280.3 L114.20,276.5 L114.50,270.8 L114.70,271.8 L115.00,273.3 L115.17,274.2 L115.19,274.3 L115.20,274.3 L115.36,275.1 L115.70,281.2 L115.79,282.7 L115.96,285.8 L116.00,285.4 L116.20,284.5 L116.41,283.6 L116.56,283.0 L116.58,283.2 L116.70,284.2 L116.76,284.7 L117.00,289.2 L117.17,292.6 L117.20,293.3 L117.36,296.7 L117.70,296.5 L117.83,296.4 L117.89,296.3 L117.96,296.3 L118.00,296.7 L118.20,298.7 L118.33,300.0 L118.58,302.4 L118.70,305.2 L118.83,307.9 L119.00,311.8 L119.18,315.1 L119.20,315.0 L119.44,313.6 L119.51,313.3 L119.70,312.3 L119.78,311.8 L119.94,312.9 L120.00,315.0 L120.06,316.5 L120.20,319.7 L120.30,322.0 L120.54,327.6 L120.70,322.7 L120.92,316.1 L121.00,313.7 L121.04,313.2 L121.14,311.8 L121.17,312.2 L121.20,312.7 L121.54,317.2 L121.70,319.3 L122.00,323.3 L122.17,321.4 L122.20,321.0 L122.38,318.9 L122.70,315.2 L123.00,311.7 L123.20,314.3 L123.33,316.1 L123.67,320.5 L123.70,321.0 L124.00,325.0 L124.20,322.7 L124.50,319.2 L124.70,316.8 L125.00,313.3 L125.09,314.1 L125.20,315.0 L125.26,315.5 L125.33,316.1 L125.70,329.2 L125.83,333.8 L125.88,335.4 L125.93,337.1 L126.00,335.8 L126.20,328.4 L126.47,318.5 L126.50,317.4 L126.53,316.4 L126.70,314.7 L126.83,313.3 L127.00,311.7 L127.20,312.3 L127.70,314.0 L128.00,315.0 L128.09,314.2 L128.20,316.9 L128.20,316.9 L128.69,329.4 L128.70,329.2 L129.00,316.6 L129.20,310.5 L129.29,307.6 L129.62,308.7 L129.70,309.0 L129.75,309.2 L129.83,309.4 L130.00,298.1 L130.20,302.1 L130.24,303.0 L130.50,308.2 L130.70,312.3 L130.86,315.6 L131.00,318.4 L131.04,319.2 L131.20,322.5 L131.30,324.6 L131.33,323.9 L131.70,316.1 L132.20,305.4 L132.28,303.7 L132.33,302.6 L132.52,298.6 L132.70,300.2 L132.73,300.4 L132.90,302.0 L133.20,304.7 L133.33,305.9 L133.52,307.6 L133.70,309.2 L133.85,310.5 L133.97,309.4 L134.20,307.5 L134.33,306.3 L134.70,303.2 L134.99,300.7 L135.11,299.7 L135.20,300.2 L135.33,301.0 L135.70,303.2 L136.20,306.3 L136.20,306.3 L136.62,308.8 L136.67,308.1 L136.70,307.7 L136.80,306.4 L137.20,301.2 L137.42,298.4 L137.56,296.5 L137.69,294.8 L137.70,294.9 L138.00,299.9 L138.04,300.5 L138.20,303.3 L138.70,311.6 L138.84,313.8 L139.17,319.4 L139.20,319.9 L139.21,320.2 L139.70,310.3 L139.84,307.5 L139.97,304.7 L140.06,302.8 L140.20,304.2 L140.33,305.5 L140.46,306.8 L140.70,309.2 L141.08,313.0 L141.20,314.2 L141.48,317.0 L141.67,318.9 L141.70,319.2 L141.72,319.4 L142.12,312.4 L142.20,310.9 L142.50,305.6 L142.57,304.4 L142.70,302.0 L142.74,301.4 L143.07,295.4 L143.17,297.9 L143.20,298.8 L143.35,302.8 L143.70,311.9 L143.83,315.4 L143.90,317.0 L144.15,310.9 L144.20,309.6 L144.67,298.0 L144.70,297.2 L144.76,295.7 L145.20,300.8 L145.55,304.9 L145.70,306.6 L145.79,307.6 L145.83,307.2 L146.20,304.3 L146.70,300.4 L147.00,298.0 L147.00,298.0 L147.08,298.9 L147.20,300.4 L147.70,306.5 L148.00,310.1 L148.20,312.5 L148.55,316.9 L148.70,314.9 L148.75,314.3 L149.17,308.7 L149.20,308.2 L149.70,301.5 L149.76,300.8 L149.93,298.5 L150.00,299.4 L150.20,301.9 L150.34,303.6 L150.38,304.0 L150.70,308.0 L150.83,309.7 L151.00,311.7 L151.20,314.2 L151.32,315.7 L151.67,311.5 L151.70,311.1 L151.91,308.6 L152.20,305.1 L152.38,303.0 L152.70,306.8 L152.83,308.4 L153.20,312.8 L153.49,316.2 L153.70,318.7 L154.06,323.0 L154.17,321.0 L154.20,320.4 L154.59,313.3 L154.70,311.3 L155.20,302.1 L155.33,299.7 L155.49,296.8 L155.58,298.3 L155.70,300.1 L156.19,307.6 L156.20,307.8 L156.20,307.9 L156.33,309.9 L156.50,312.5 L156.70,309.9 L156.82,308.2 L157.20,303.3 L157.38,300.9 L157.50,303.2 L157.70,307.0 L157.91,311.0 L158.20,316.6 L158.33,319.1 L158.54,323.1 L158.70,320.2 L159.20,311.4 L159.33,309.0 L159.33,309.0 L159.53,305.6 L159.69,302.6 L159.70,302.6 L159.95,303.4 L160.20,304.1 L160.33,304.4 L160.57,305.1 L160.70,305.5 L161.20,306.9 L161.25,307.0 L161.28,306.8 L161.33,306.6 L161.70,304.8 L162.20,302.4 L162.24,302.2 L162.33,304.0 L162.67,310.5 L162.70,311.0 L163.20,320.6 L163.33,323.1 L163.47,325.6 L163.70,319.3 L164.11,308.5 L164.19,306.2 L164.20,306.0 L164.50,298.0 L164.62,294.7 L164.70,296.1 L164.73,296.7 L165.17,305.4 L165.20,306.1 L165.35,309.0 L165.58,313.6 L165.70,316.1 L165.83,318.7 L165.99,321.8 L166.15,317.6 L166.20,316.3 L166.67,304.3 L166.70,303.5 L166.72,303.1 L166.77,301.7 L167.04,294.8 L167.20,299.3 L167.39,304.6 L167.67,312.2 L167.70,313.1 L168.09,323.9 L168.14,325.3 L168.20,324.1 L168.67,314.5 L168.70,313.8 L169.15,304.7 L169.17,304.3 L169.20,303.6 L169.50,297.4 L169.62,295.1 L169.70,296.2 L169.77,297.1 L170.20,302.9 L170.39,305.4 L170.53,307.4 L170.64,308.9 L170.70,308.4 L170.78,307.7 L170.83,307.2 L171.20,303.9 L171.40,302.1 L171.51,301.2 L171.67,303.9 L171.70,304.4 L172.02,309.9 L172.20,312.9 L172.27,314.1 L172.48,317.6 L172.50,317.2 L172.70,313.6 L173.20,304.5 L173.33,302.1 L173.56,297.9 L173.68,295.7 L173.70,295.9 L174.17,300.3 L174.20,300.6 L174.70,305.4 L174.92,307.4 L175.00,308.2 L175.13,309.5 L175.20,308.8 L175.70,303.5 L176.00,300.4 L176.20,298.3 L176.23,297.9 L176.36,296.6 L176.51,295.1 L176.70,297.6 L176.85,299.7 L177.00,301.7 L177.20,304.4 L177.47,308.1 L177.69,311.0 L177.70,311.0 L177.93,309.2 L178.00,308.6 L178.20,307.0 L178.70,303.0 L178.74,302.7 L178.94,304.0 L179.00,304.5 L179.20,305.8 L179.49,307.7 L179.56,308.1 L179.70,309.1 L180.00,311.1 L180.18,312.3 L180.20,312.4 L180.25,312.8 L180.66,308.5 L180.70,308.0 L181.00,304.8 L181.20,302.7 L181.23,302.4 L181.28,301.9 L181.70,297.4 L181.84,295.9 L181.90,297.2 L182.00,299.6 L182.20,304.4 L182.70,316.2 L182.74,317.0 L183.00,323.2 L183.00,323.2 L183.20,319.1 L183.67,309.5 L183.70,308.8 L183.82,306.3 L184.20,298.5 L184.37,294.9 L184.47,295.8 L184.67,297.7 L184.70,298.1 L184.93,300.3 L185.09,301.8 L185.20,302.9 L185.50,305.7 L185.70,307.7 L185.71,307.7 L186.05,311.1 L186.20,309.6 L186.33,308.3 L186.47,306.9 L186.70,304.7 L187.09,301.0 L187.20,302.1 L187.49,305.2 L187.50,305.3 L187.70,307.4 L187.74,307.9 L188.10,311.7 L188.19,312.6 L188.20,312.4 L188.67,302.9 L188.70,302.3 L188.72,301.8 L189.05,295.2 L189.07,294.8 L189.20,296.5 L189.70,302.9 L190.00,306.7 L190.20,309.2 L190.21,309.4 L190.39,311.6 L190.70,308.3 L191.17,303.3 L191.20,303.0 L191.28,302.2 L191.70,297.6 L191.73,297.4 L191.90,301.2 L191.91,301.6 L192.17,307.5 L192.20,308.2 L192.51,315.5 L192.70,319.8 L192.94,325.2 L193.20,319.7 L193.33,317.0 L193.33,316.9 L193.70,309.1 L194.17,299.2 L194.20,299.4 L194.33,300.3 L194.44,301.1 L194.46,301.2 L194.70,303.0 L195.08,305.7 L195.20,306.6 L195.33,307.5 L195.70,310.2 L195.74,310.5 L195.75,310.4 L196.05,307.8 L196.20,306.5 L196.33,305.3 L196.67,302.3 L196.69,302.2 L196.70,302.2 L197.20,305.4 L197.29,305.9 L197.33,306.2 L197.41,306.7 L197.49,307.2 L197.70,308.5 L198.11,311.0 L198.20,311.6 L198.22,311.7 L198.33,310.4 L198.70,306.3 L198.73,306.0 L198.78,305.4 L199.17,301.0 L199.20,300.7 L199.20,300.7 L199.70,303.8 L200.06,306.0 L200.20,306.8 L200.33,307.7 L200.70,309.9 L200.83,310.7 L201.20,308.8 L201.33,308.1 L201.61,306.6 L201.70,306.1 L202.20,303.4 L202.48,301.9 L202.50,302.2 L202.70,304.1 L202.70,304.2 L203.20,309.0 L203.47,311.6 L203.67,313.5 L203.70,313.9 L203.82,315.0 L204.09,308.9 L204.13,307.9 L204.20,306.2 L204.67,295.6 L204.70,294.8 L204.71,294.7 L204.72,294.4 L205.20,299.3 L205.70,304.5 L205.83,305.9 L205.92,306.8 L206.20,309.7 L206.26,310.3 L206.38,311.5 L206.67,308.4 L206.70,308.1 L206.88,306.2 L207.00,304.9 L207.20,302.7 L207.50,299.6 L207.50,299.6 L207.70,297.4 L207.80,296.3 L208.17,301.6 L208.20,302.0 L208.33,303.9 L208.70,309.2 L209.17,315.9 L209.20,316.4 L209.23,316.8 L209.34,318.3 L209.70,310.6 L210.00,304.2 L210.20,300.0 L210.41,295.6 L210.57,297.1 L210.70,298.2 L210.83,299.3 L211.20,302.6 L211.70,307.0 L211.81,307.9 L211.85,308.3 L212.00,306.9 L212.20,305.1 L212.70,300.5 L212.86,299.0 L212.93,299.9 L213.00,300.8 L213.20,303.3 L213.36,305.3 L213.55,307.7 L213.70,309.6 L214.17,315.5 L214.17,315.5 L214.20,315.9 L214.42,318.7 L214.43,318.6 L214.70,314.3 L215.07,308.6 L215.17,307.1 L215.20,306.6 L215.48,302.3 L215.69,303.3 L215.70,303.4 L216.13,305.6 L216.20,305.9 L216.31,306.5 L216.33,306.6 L216.47,307.3 L216.70,305.3 L217.00,302.6 L217.20,300.8 L217.52,298.0 L217.53,298.2 L217.67,300.2 L217.70,300.6 L218.20,307.8 L218.33,309.6 L218.38,310.3 L218.54,308.7 L218.70,307.2 L219.08,303.4 L219.16,302.6 L219.20,302.3 L219.33,301.0 L219.52,299.2 L219.70,302.0 L219.78,303.4 L220.00,306.8 L220.20,310.0 L220.39,313.0 L220.44,313.9 L220.70,312.1 L220.83,311.2 L221.20,308.6 L221.70,305.2 L221.93,303.6 L222.00,303.1 L222.04,302.8 L222.20,304.9 L222.70,311.1 L222.78,312.1 L223.20,317.3 L223.33,319.0 L223.38,319.6 L223.40,319.8 L223.42,320.1 L223.70,315.0 L224.02,309.0 L224.20,305.6 L224.33,303.1 L224.70,296.2 L224.75,295.3 L225.05,299.6 L225.17,301.3 L225.20,301.7 L225.59,307.3 L225.70,306.9 L225.83,306.3 L226.20,304.7 L226.56,303.1 L226.67,302.6 L226.70,302.5 L227.11,300.7 L227.20,300.3 L227.33,300.9 L227.69,302.4 L227.70,302.5 L227.73,302.6 L228.00,303.7 L228.20,304.6 L228.35,305.3 L228.67,306.6 L228.70,306.7 L228.85,307.4 L229.00,306.4 L229.20,305.1 L229.33,304.2 L229.70,301.8 L230.03,299.6 L230.20,298.5 L230.22,298.3 L230.33,299.4 L230.70,303.2 L231.00,306.2 L231.20,308.2 L231.67,313.0 L231.68,313.1 L231.70,312.8 L231.79,311.8 L232.20,307.4 L232.33,305.9 L232.70,301.9 L233.00,298.6 L233.20,296.5 L233.29,295.5 L233.36,294.7 L234.17,294.7 L234.20,306.7 L235.33,306.7 L235.56,314.2 L235.70,318.6 L235.78,321.2 L236.17,333.8 L236.19,334.3 L236.20,334.8 L236.67,350.0 L236.70,348.7 L236.81,344.5 L237.20,328.7 L237.31,324.5 L237.31,324.3 L237.33,323.8 L237.41,322.0 L237.67,315.9 L237.70,316.3 L237.91,318.8 L237.91,318.6 L238.03,316.1 L238.20,312.6 L238.33,309.9 L238.50,306.3 L238.51,306.2 L238.65,305.6 L238.70,305.4 L239.17,303.3 L239.20,303.5 L239.49,304.7 L239.67,305.5 L239.70,305.6 L240.11,307.4 L240.11,307.5 L240.20,311.3 L240.33,317.0 L240.67,329.0 L240.70,330.2 L240.71,330.5 L240.73,329.5 L241.20,310.4 L241.29,306.7 L241.31,305.9 L241.61,305.2 L241.67,305.0 L241.70,305.2 L241.89,306.4 L241.98,307.0 L242.20,314.5 L242.23,315.4 L242.49,324.4 L242.58,327.7 L242.67,325.8 L242.70,325.1 L242.85,321.9 L243.00,318.5 L243.18,312.3 L243.20,312.2 L243.66,309.5 L243.67,309.5 L243.70,309.3 L244.17,306.7 L244.20,307.9 L244.28,310.9 L244.49,318.2 L244.50,318.9 L244.70,331.0 L244.91,343.5 L245.09,354.7 L245.17,355.5 L245.20,355.9 L245.29,356.8 L245.33,357.3 L245.69,334.1 L245.70,333.7 L245.91,325.4 L246.00,321.7 L246.20,313.7 L246.25,311.5 L246.33,308.3 L246.53,307.5 L246.70,306.8 L246.85,306.1 L247.00,305.5 L247.20,304.6 L247.45,303.5 L247.50,303.3 L247.70,304.5 L248.11,306.8 L248.20,307.3 L248.33,308.1 L248.67,310.0 L248.70,309.9 L248.73,309.8 L249.20,308.0 L249.33,307.5 L249.35,307.4 L249.70,306.1 L250.00,305.0 L250.12,305.5 L250.20,305.7 L250.27,306.0 L250.67,314.4 L250.70,315.1 L250.74,316.0 L250.87,318.6 L251.12,315.2 L251.20,314.1 L251.33,312.3 L251.36,311.7 L251.47,309.6 L251.67,309.0 L251.70,309.0 L251.72,308.9 L252.20,307.5 L252.32,307.2 L252.38,307.0 L252.42,307.2 L252.50,307.5 L252.70,310.7 L252.99,315.3 L253.00,315.3 L253.04,315.3 L253.20,315.5 L253.59,316.0 L253.66,316.6 L253.66,316.6 L253.67,316.7 L253.70,316.9 L254.17,319.8 L254.20,320.0 L254.26,320.4 L254.70,323.1 L254.86,324.1 L255.00,325.0 L255.10,327.1 L255.16,329.5 L255.20,331.4 L255.33,337.1 L255.70,352.8 L255.78,352.8 L256.17,352.7 L256.20,352.7 L256.30,352.6 L256.33,353.3 L256.39,351.5 L256.67,343.3 L256.68,342.9 L256.70,342.3 L257.20,327.3 L257.30,324.3 L257.33,323.3 L257.50,327.2 L257.70,331.9 L257.92,337.0 L258.20,343.6 L258.29,345.7 L258.33,347.7 L258.70,347.5 L258.89,347.4 L259.17,332.8 L259.20,331.2 L259.33,324.2 L259.49,322.1 L259.70,324.9 L259.79,326.1 L260.00,328.9 L260.20,331.6 L260.33,333.3 L260.41,331.9 L260.70,326.6 L261.00,321.1 L261.16,318.3 L261.20,317.8 L261.33,316.3 L261.66,324.0 L261.69,324.5 L261.70,324.8 L261.76,326.1 L262.00,328.1 L262.20,329.8 L262.26,330.3 L262.31,330.6 L262.36,331.1 L262.50,333.3 L262.70,335.0 L262.86,336.5 L262.93,337.0 L263.00,337.6 L263.20,339.3 L263.67,343.3 L263.70,342.9 L263.97,339.6 L264.00,339.2 L264.20,336.7 L264.49,333.1 L264.57,332.1 L264.70,330.4 L265.00,326.7 L265.11,328.3 L265.17,329.2 L265.20,329.7 L265.70,337.2 L265.73,337.6 L266.00,341.7 L266.20,344.7 L266.33,346.7 L266.67,342.5 L266.69,342.3 L266.70,342.4 L266.74,342.7 L266.90,343.7 L267.20,345.7 L267.29,346.3 L267.34,344.4 L267.52,338.8 L267.67,334.2 L267.70,334.0 L267.88,333.0 L267.94,333.8 L268.14,336.5 L268.20,337.3 L268.31,338.9 L268.67,343.8 L268.70,344.2 L268.93,347.4 L269.00,348.3 L269.20,345.1 L269.55,339.4 L269.64,338.0 L269.67,337.5 L269.68,337.2 L269.70,337.1 L270.17,334.8 L270.20,334.6 L270.24,334.4 L270.28,334.2 L270.33,332.8 L270.70,326.9 L270.79,325.5 L270.83,324.7 L270.84,324.7 L270.88,323.9 L271.20,322.3 L271.41,321.3 L271.53,320.7 L271.60,320.4 L271.67,320.0 L271.67,320.0 L271.70,320.7 L272.00,326.8 L272.15,329.9 L272.20,330.8 L272.20,330.9 L272.27,332.3 L272.70,335.4 L272.77,335.9 L272.80,336.0 L272.87,336.5 L273.00,338.3 L273.20,334.6 L273.24,334.0 L273.70,325.3 L273.83,322.9 L273.84,322.8 L273.86,322.5 L274.17,316.7 L274.20,316.5 L274.44,315.6 L274.48,315.4 L274.67,314.7 L274.70,314.5 L275.00,313.3 L275.04,314.1 L275.20,317.3 L275.67,326.7 L275.70,327.3 L276.00,333.3 L276.02,333.4 L276.20,334.3 L276.33,335.0 L276.64,339.4 L276.67,339.8 L276.70,340.3 L276.93,343.5 L277.20,342.4 L277.26,342.1 L277.33,341.8 L277.44,340.3 L277.53,339.0 L277.67,338.3 L277.70,338.2 L278.06,336.4 L278.20,335.7 L278.50,334.2 L278.67,333.3 L278.68,333.4 L278.70,333.6 L279.20,337.3 L279.20,337.4 L279.33,338.3 L279.61,340.4 L279.70,343.9 L279.82,349.0 L280.00,356.0 L280.17,359.2 L280.20,359.8 L280.21,360.1 L280.37,352.8 L280.44,349.3 L280.70,337.4 L280.81,332.1 L280.97,330.0 L281.00,329.6 L281.20,326.8 L281.33,325.0 L281.43,326.4 L281.57,328.6 L281.70,330.5 L281.83,332.5 L282.05,335.7 L282.20,338.0 L282.23,338.5 L282.33,340.9 L282.67,347.2 L282.70,347.8 L282.83,350.2 L282.92,350.4 L283.20,350.7 L283.33,350.9 L283.43,349.8 L283.54,349.5 L283.67,349.2 L283.70,349.1 L284.16,347.9 L284.20,347.8 L284.50,347.1 L284.67,346.7 L284.70,347.1 L285.20,354.3 L285.33,356.2 L285.62,360.2 L285.70,361.4 L285.83,363.3 L286.00,360.5 L286.20,357.0 L286.24,356.4 L286.70,348.5 L286.83,346.2 L286.86,345.8 L287.00,343.3 L287.20,344.3 L287.67,346.7 L287.70,346.8 L287.72,346.9 L288.07,352.1 L288.20,353.9 L288.32,355.6 L288.33,355.6 L288.69,349.4 L288.70,349.3 L288.84,347.0 L288.92,345.6 L289.17,343.7 L289.20,343.5 L289.31,342.6 L289.44,341.7 L289.61,340.5 L289.67,341.4 L289.70,341.9 L290.00,347.0 L290.04,347.7 L290.20,350.4 L290.21,350.5 L290.42,344.4 L290.70,336.5 L290.81,333.5 L290.83,333.3 L291.04,335.7 L291.20,337.5 L291.66,342.8 L291.67,342.9 L291.70,343.2 L292.00,346.7 L292.05,345.6 L292.20,344.8 L292.50,343.0 L292.65,342.1 L292.67,341.5 L292.70,340.5 L293.00,330.3 L293.17,325.9 L293.20,325.0 L293.25,323.6 L293.29,323.2 L293.67,318.7 L293.70,318.3 L293.83,316.7 L294.00,316.7 L294.20,330.0 L294.25,330.0 L294.58,340.4 L294.70,343.9 L294.80,347.0 L296.00,347.0 L296.20,339.0 L296.33,333.7 L296.40,331.2 L296.55,325.0 L296.60,307.4 L296.70,308.2 L297.02,310.9 L297.20,312.5 L297.33,313.7 L297.64,316.3 L297.70,316.8 L298.06,319.9 L298.20,319.0 L298.33,318.0 L298.70,315.4 L298.75,315.0 L299.20,311.8 L299.33,310.8 L299.37,310.6 L299.70,308.2 L299.70,308.2 L299.99,308.9 L300.00,308.9 L300.20,309.5 L300.33,309.8 L300.62,310.5 L300.70,310.7 L301.00,311.5 L301.20,312.0 L301.24,312.1 L301.32,312.3 L301.33,312.3 L301.70,311.4 L302.17,310.4 L302.20,310.3 L302.33,310.1 L302.54,309.6 L302.70,310.9 L303.20,315.1 L303.33,316.2 L303.70,319.2 L303.92,321.0 L304.20,316.5 L304.33,314.3 L304.35,314.0 L304.70,308.4 L304.83,306.3 L304.97,307.8 L305.17,309.9 L305.20,310.3 L305.33,311.7 L305.59,314.5 L305.70,315.7 L305.86,317.4 L306.00,315.9 L306.20,313.7 L306.33,312.3 L306.70,308.3 L307.00,305.0 L307.15,303.4 L307.17,303.1 L307.20,303.4 L307.67,308.9 L307.70,309.2 L307.77,310.0 L308.00,312.7 L308.18,314.8 L308.20,314.7 L308.39,314.0 L308.70,312.7 L308.83,312.2 L309.00,311.5 L309.20,310.7 L309.70,308.7 L309.79,308.4 L309.83,308.9 L310.01,311.0 L310.20,313.4 L310.33,315.0 L310.63,318.6 L310.70,319.5 L310.74,320.0 L310.83,318.7 L311.20,313.8 L311.25,313.1 L311.67,307.4 L311.68,307.3 L311.70,307.4 L311.83,308.1 L312.00,309.0 L312.20,310.0 L312.60,312.0 L312.62,311.9 L312.70,311.5 L313.00,310.1 L313.20,309.1 L313.24,308.9 L313.39,308.2 L313.70,306.7 L314.00,305.3 L314.01,305.2 L314.17,304.5 L314.20,304.9 L314.63,312.5 L314.67,313.0 L314.70,313.6 L315.18,321.8 L315.20,321.6 L315.50,318.4 L315.70,316.2 L315.87,314.5 L316.20,310.9 L316.33,309.5 L316.49,307.8 L316.70,305.6 L316.75,305.0 L317.11,307.7 L317.20,308.4 L317.70,312.1 L317.88,313.5 L318.20,315.9 L318.40,317.4 L318.50,316.5 L318.70,314.7 L319.12,310.8 L319.20,310.1 L319.70,305.4 L319.81,304.4 L320.20,307.9 L320.23,308.1 L320.70,312.3 L320.85,313.6 L321.20,316.7 L321.45,318.9 L321.47,318.8 L321.70,317.4 L322.20,314.5 L322.56,312.5 L322.70,311.6 L323.10,309.3 L323.18,309.7 L323.20,309.8 L323.70,312.8 L323.80,313.3 L324.18,315.6 L324.20,315.3 L324.58,310.7 L324.70,309.3 L325.14,304.0 L325.20,304.8 L325.20,304.9 L325.70,311.2 L325.82,312.7 L326.00,314.9 L326.00,315.0 L326.20,315.0 L326.50,286.7 L326.67,286.7 L326.70,286.5 L326.93,285.6 L327.20,284.5 L327.55,283.1 L327.70,282.5 L328.17,280.7 L328.20,280.5 L328.33,280.0 L328.65,281.9 L328.70,282.2 L329.20,285.2 L329.27,285.6 L329.70,288.2 L329.89,289.4 L329.92,289.5 L330.00,290.0 L330.13,289.5 L330.20,291.6 L330.54,301.6 L330.70,306.3 L330.73,307.1 L331.16,291.0 L331.20,289.5 L331.33,284.7 L331.56,283.7 L331.67,283.3 L331.70,283.5 L332.18,285.9 L332.20,286.0 L332.70,288.5 L332.80,289.0 L333.00,290.0 L333.20,291.0 L333.33,291.7 L333.39,291.2 L333.67,294.0 L333.70,294.3 L333.99,297.2 L334.20,292.3 L334.31,289.7 L334.59,282.8 L334.67,282.3 L334.70,282.1 L334.93,280.5 L335.00,280.0 L335.20,279.0 L335.55,277.3 L335.59,277.0 L335.70,276.5 L335.83,275.8 L336.19,274.1 L336.20,274.0 L336.21,273.9 L336.33,273.3 L336.70,280.1 L336.79,281.7 L336.83,282.6 L337.00,285.7 L337.20,289.4 L337.38,292.9 L337.50,295.0 L337.70,296.0 L337.85,296.8 L337.88,297.2 L338.20,302.5 L338.33,304.7 L338.40,305.7 L338.45,306.7 L338.50,306.4 L338.70,305.1 L339.00,303.1 L339.05,302.8 L339.12,303.1 L339.17,303.3 L339.20,303.1 L339.60,299.9 L339.66,299.4 L339.70,299.5 L340.00,300.9 L340.20,301.9 L340.26,302.2 L340.70,293.2 L340.83,290.4 L340.86,290.4 L341.00,292.2 L341.20,294.8 L341.67,300.8 L341.70,301.3 L341.79,302.4 L342.20,307.8 L342.39,310.2 L342.50,311.7 L342.70,315.1 L342.72,315.4 L342.99,322.1 L343.20,327.4 L343.32,330.3 L343.33,330.5 L343.67,333.6 L343.70,332.8 L343.92,327.6 L344.17,323.5 L344.20,323.0 L344.51,318.0 L344.70,314.9 L345.00,310.0 L345.11,310.1 L345.20,310.2 L345.70,310.7 L345.71,310.7 L345.83,310.8 L346.20,311.2 L346.28,311.3 L346.35,311.4 L346.67,316.6 L346.70,317.1 L346.88,319.7 L346.95,320.8 L347.00,319.9 L347.20,316.6 L347.48,312.0 L347.55,310.8 L347.70,310.6 L348.20,310.1 L348.33,310.0 L348.70,306.3 L349.20,301.3 L349.62,297.1 L349.67,296.7 L349.70,296.3 L350.00,293.3 L350.20,297.3 L350.22,297.8 L350.70,307.3 L350.82,309.8 L350.83,310.0 L351.20,317.3 L351.33,320.0 L351.67,324.8 L351.70,325.2 L352.20,332.4 L352.49,336.6 L352.50,336.7 L352.70,333.5 L352.82,331.6 L353.09,330.8 L353.20,330.5 L353.42,329.8 L353.67,322.6 L353.69,321.9 L353.70,321.6 L354.02,312.4 L354.17,310.0 L354.20,310.5 L354.67,318.0 L354.70,318.5 L354.90,321.8 L354.98,323.6 L355.20,328.8 L355.50,335.9 L355.50,335.9 L355.58,336.6 L355.70,337.6 L355.83,338.7 L356.10,347.0 L356.18,350.0 L356.20,350.7 L356.33,355.8 L356.70,350.0 L357.20,342.1 L357.33,340.0 L357.47,337.2 L357.70,337.9 L358.07,339.1 L358.20,333.6 L358.33,327.9 L358.67,319.6 L358.70,319.5 L359.17,319.0 L359.20,318.9 L359.67,318.3 L359.70,318.9 L359.76,319.7 L360.00,325.6 L360.20,330.3 L360.36,334.1 L360.70,336.7 L360.83,337.7 L360.96,334.6 L361.20,330.4 L361.67,322.4 L361.70,321.8 L362.00,316.7 L362.20,319.2 L362.50,322.9 L362.70,325.4 L362.89,327.8 L363.20,336.2 L363.33,339.8 L363.49,343.2 L363.70,341.9 L364.09,339.4 L364.17,340.0 L364.20,339.7 L364.29,339.0 L364.70,335.7 L364.89,334.2 L365.00,333.3 L365.20,332.5 L365.49,331.4 L365.70,330.5 L365.83,330.0 L366.01,331.2 L366.20,333.8 L366.61,339.3 L366.63,339.3 L366.70,339.4 L367.00,339.5 L367.20,339.6 L367.21,339.6 L367.23,339.8 L367.50,341.7 L367.70,343.7 L367.83,344.9 L368.00,346.7 L368.08,347.4 L368.20,352.4 L368.67,371.1 L368.68,371.5 L368.70,370.9 L369.17,361.0 L369.20,360.3 L369.28,358.7 L369.70,362.4 L370.00,365.0 L370.20,363.3 L370.33,362.1 L370.39,361.6 L370.44,362.0 L370.70,363.8 L370.99,365.9 L371.04,364.6 L371.20,360.6 L371.33,357.4 L371.59,353.0 L371.64,352.9 L371.67,352.9 L371.70,352.8 L372.20,352.1 L372.50,351.7 L372.70,351.4 L373.20,350.7 L373.33,350.5 L373.62,350.1 L373.67,350.7 L373.70,350.2 L373.94,346.4 L374.17,342.9 L374.20,342.4 L374.22,342.1 L374.54,327.6 L374.67,322.2 L374.70,321.2 L374.82,317.9 L375.14,313.3 L375.20,312.5 L375.50,308.3 L375.70,309.4 L376.20,312.2 L376.67,314.8 L376.70,315.0 L377.00,316.7 L377.08,316.8 L377.20,318.4 L377.50,322.4 L377.68,324.7 L377.70,324.6 L378.15,320.7 L378.20,320.3 L378.28,319.6 L378.33,319.7 L378.70,320.6 L378.75,320.7 L378.84,320.9 L379.17,324.3 L379.20,324.6 L379.35,325.9 L379.44,326.7 L379.70,324.9 L380.00,322.8 L380.04,322.5 L380.20,322.7 L380.70,323.2 L380.75,323.2 L380.83,323.3 L380.93,323.0 L381.20,324.6 L381.35,325.5 L381.53,326.5 L381.67,324.9 L381.70,324.5 L381.95,321.6 L382.13,319.4 L382.20,319.2 L382.50,318.3 L382.59,318.4 L382.64,318.5 L382.70,319.1 L383.19,324.6 L383.20,324.7 L383.24,325.2 L383.33,324.3 L383.70,321.0 L383.79,320.2 L383.84,319.7 L384.17,320.0 L384.20,319.8 L384.60,316.8 L384.70,317.5 L385.00,319.7 L385.20,321.2 L385.20,321.1 L385.34,318.0 L385.70,309.9 L385.80,307.8 L385.83,307.5 L385.94,308.4 L386.20,310.6 L386.54,313.5 L386.67,314.6 L386.70,314.9 L387.16,318.8 L387.20,320.3 L387.50,331.6 L387.70,338.8 L387.76,340.9 L388.20,331.2 L388.33,328.3 L388.36,327.7 L388.70,330.1 L388.83,331.0 L389.14,333.2 L389.17,333.3 L389.20,333.0 L389.50,330.3 L389.70,328.5 L389.74,328.1 L390.20,324.0 L390.34,322.7 L390.59,320.5 L390.70,323.1 L390.83,326.2 L391.19,339.3 L391.20,339.0 L391.67,325.7 L391.70,324.7 L391.79,322.2 L392.20,323.8 L392.22,323.9 L392.50,329.4 L392.70,330.1 L392.82,330.5 L392.95,327.0 L393.20,320.0 L393.42,314.0 L393.55,312.4 L393.67,311.0 L393.70,310.6 L394.15,305.2 L394.17,305.0 L394.20,305.2 L394.36,306.0 L394.67,316.2 L394.70,317.3 L394.96,326.1 L395.20,320.5 L395.23,319.9 L395.50,313.4 L395.56,312.0 L395.70,312.7 L395.83,313.3 L395.83,313.3 L396.20,311.9 L396.33,311.3 L396.43,311.0 L396.55,310.5 L396.70,311.2 L397.15,313.2 L397.20,312.5 L397.33,310.9 L397.50,308.8 L397.70,308.3 L397.75,308.1 L398.20,310.9 L398.33,311.7 L398.70,313.9 L399.17,316.7 L399.20,316.4 L399.33,315.5 L399.61,313.6 L399.70,312.9 L399.91,311.4 L400.20,313.2 L400.21,313.3 L400.33,314.0 L400.51,315.2 L400.70,311.4 L400.81,309.2 L400.83,308.7 L401.11,307.5 L401.20,308.3 L401.33,309.5 L401.70,312.8 L402.20,317.3 L402.48,319.8 L402.50,320.2 L402.70,321.1 L403.08,322.7 L403.20,321.2 L403.50,317.5 L403.68,315.3 L403.70,315.2 L404.17,313.3 L404.20,313.1 L404.67,310.3 L404.70,310.1 L404.98,308.3 L405.20,314.0 L405.58,323.9 L405.67,320.7 L405.70,319.4 L406.18,301.0 L406.20,300.8 L406.33,300.0 L406.67,303.8 L406.70,304.2 L407.20,309.9 L407.50,313.3 L407.58,313.3 L407.70,314.7 L408.00,318.4 L408.18,320.4 L408.20,320.1 L408.33,318.3 L408.60,314.5 L408.70,313.1 L408.78,312.1 L409.17,311.7 L409.20,311.9 L409.20,312.0 L409.70,315.9 L409.88,317.4 L410.00,318.3 L410.20,319.9 L410.46,322.1 L410.48,322.3 L410.70,326.3 L410.83,328.6 L411.06,327.0 L411.08,326.6 L411.20,323.3 L411.67,310.7 L411.67,310.7 L411.70,310.1 L412.00,305.0 L412.20,306.2 L412.50,308.1 L412.70,309.4 L413.20,312.5 L413.33,313.3 L413.67,314.7 L413.70,314.8 L413.83,315.3 L414.20,323.0 L414.43,327.7 L414.70,324.3 L415.00,320.5 L415.03,320.2 L415.06,320.5 L415.20,321.6 L415.67,325.3 L415.70,325.6 L415.83,326.7 L416.20,329.6 L416.26,330.1 L416.67,333.3 L416.70,333.2 L416.96,332.2 L417.20,333.5 L417.33,334.3 L417.56,335.6 L417.70,333.6 L418.00,329.5 L418.16,327.4 L418.20,327.2 L418.33,326.7 L418.42,327.1 L418.67,328.3 L418.70,328.5 L419.02,330.1 L419.17,330.8 L419.20,331.0 L419.39,331.9 L419.62,336.5 L419.70,338.2 L419.99,344.0 L420.00,343.8 L420.20,339.6 L420.25,338.5 L420.59,331.5 L420.70,330.8 L420.83,330.0 L420.86,329.9 L421.20,327.8 L421.42,326.5 L421.45,327.2 L421.67,331.7 L421.70,332.4 L422.00,338.8 L422.02,339.2 L422.20,333.3 L422.62,319.3 L422.70,318.8 L423.20,315.8 L423.33,315.0 L423.70,316.8 L423.83,317.5 L424.17,319.2 L424.20,319.3 L424.43,320.5 L424.63,321.5 L424.70,323.9 L425.00,335.1 L425.03,336.0 L425.20,340.7 L425.24,341.7 L425.70,324.9 L425.83,320.0 L426.00,319.3 L426.20,318.5 L426.30,318.1 L426.67,316.7 L426.70,316.9 L427.00,318.7 L427.20,319.9 L427.21,319.9 L427.34,320.7 L427.50,323.4 L427.70,326.7 L427.81,328.6 L427.83,329.0 L427.90,330.1 L427.94,330.8 L428.00,330.6 L428.20,329.6 L428.33,328.9 L428.41,327.7 L428.54,325.6 L428.67,325.0 L428.70,324.8 L429.02,323.2 L429.17,322.5 L429.20,322.3 L429.62,320.2 L429.67,320.0 L429.70,319.8 L430.00,318.3 L430.20,319.1 L430.23,319.2 L430.33,319.7 L430.50,320.3 L430.70,321.1 L431.20,323.1 L431.33,323.7 L431.67,325.0 L431.70,324.9 L432.08,323.8 L432.17,324.3 L432.20,324.6 L432.68,327.9 L432.70,327.7 L432.98,324.1 L433.00,323.8 L433.20,321.2 L433.28,320.2 L433.33,320.0 L433.58,320.6 L433.70,320.9 L434.00,321.7 L434.18,321.7 L434.20,319.6 L434.50,390.8 L440.83,390.8 L441.20,392.7 L441.33,393.3 L441.67,395.0 L441.70,395.2 L442.00,397.5 L442.20,399.0 L442.50,401.2 L442.70,402.7 L442.70,402.7 L443.00,405.0 L443.20,403.9 L443.30,403.3 L443.33,403.1 L443.70,401.0 L443.90,399.9 L444.17,398.3 L444.20,398.1 L444.70,395.3 L445.20,392.4 L445.33,391.7 L445.70,389.8 L446.20,387.3 L446.33,386.7 L446.70,389.6 L447.17,393.3 L447.20,393.6 L447.33,394.5 L447.70,397.1 L448.20,400.7 L448.33,401.7 L448.70,402.6 L449.20,403.8 L449.23,403.9 L449.33,404.2 L449.67,405.0 L449.70,405.0 L449.83,405.2 L450.20,405.8 L450.33,406.0 L450.43,406.1 L450.70,406.5 L450.83,406.7 L451.20,406.4 L451.33,406.3 L451.70,406.0 L452.00,405.8 L452.20,405.0 L452.67,403.1 L452.70,402.9 L453.00,401.7 L453.20,403.7 L453.33,405.0 L453.67,408.3 L453.70,408.5 L454.00,410.1 L454.20,411.1 L454.67,413.5 L454.70,413.3 L455.20,410.7 L455.33,410.0 L455.50,408.9 L455.70,407.6 L455.83,406.7 L456.20,409.7 L456.33,410.8 L456.67,413.5 L461.67,413.5 L461.70,413.2 L461.73,412.9 L462.00,410.1 L462.20,408.1 L462.33,406.8 L462.50,405.0 L462.67,405.5 L462.70,405.6 L462.93,406.2 L463.20,407.0 L463.50,407.9 L463.67,408.3 L463.70,408.5 L464.00,410.1 L464.17,410.9 L464.20,411.1 L464.60,413.2 L464.67,413.5 L467.50,413.5 L467.70,411.5 L468.00,408.4 L468.20,406.4 L468.67,401.7 L468.70,401.3 L469.00,397.7 L469.20,395.3 L469.50,391.7 L469.67,389.6 L469.70,389.2 L470.20,382.9 L470.20,382.9 L470.33,381.3 L470.70,376.7 L470.80,375.4 L470.83,375.0 L471.00,374.9 L471.20,374.8 L471.40,374.6 L471.67,374.5 L471.70,374.5 L472.17,374.2 L472.20,374.1 L472.50,373.9 L472.70,373.8 L473.17,373.5 L473.20,373.4 L473.33,373.3 L473.35,373.2 L473.67,370.8 L473.70,370.6 L473.95,368.7 L474.20,366.8 L474.33,365.8 L474.55,367.5 L474.70,368.6 L475.00,370.8 L475.20,372.3 L475.33,373.3 L475.67,376.1 L475.70,376.4 L476.20,380.6 L476.33,381.7 L476.70,379.3 L477.00,377.4 L477.09,376.8 L477.20,376.1 L477.50,374.2 L477.69,374.1 L477.70,374.1 L477.83,374.0 L478.20,373.8 L478.29,373.8 L478.67,373.6 L478.70,373.6 L479.17,373.3 L479.20,373.3 L479.33,373.1 L479.56,372.8 L479.70,372.7 L480.00,372.3 L480.16,372.1 L480.20,372.0 L480.50,371.7 L480.70,372.2 L480.76,372.4 L480.83,372.6 L481.20,373.7 L481.67,375.0 L481.70,375.1 L482.20,377.0 L482.50,378.1 L482.70,378.9 L483.00,380.0 L483.14,381.0 L483.20,381.4 L483.33,382.4 L483.70,385.0 L483.74,385.3 L484.00,387.1 L484.17,388.3 L484.20,388.9 L484.34,391.1 L484.67,396.3 L484.70,396.9 L484.92,400.4 L485.00,401.7 L485.17,404.8 L485.20,405.4 L485.52,411.3 L485.67,414.0 L485.70,414.0 L486.00,414.5 L658.00,414.5 L658.00,417.50 Z" fill="#ff0000"/>
</g>
<rect x="20" y="414.5" width="640" height="5" fill="#fff"/>
<rect x="21" y="150" width="6.6" height="270" fill="#fff"/>
<rect x="658" y="150" width="2" height="270" fill="#fff"/>
<text x="19.0" y="417.30" text-anchor="end" class="ax">0</text>
<text x="19.0" y="362.94" text-anchor="end" class="ax">500</text>
<text x="19.0" y="308.38" text-anchor="end" class="ax">1000</text>
<text x="19.0" y="253.81" text-anchor="end" class="ax">1500</text>
<text x="19.0" y="199.25" text-anchor="end" class="ax">2000</text>
<text x="19.0" y="144.69" text-anchor="end" class="ax">2500</text>
<text x="19.0" y="90.12" text-anchor="end" class="ax">3000</text>
<text x="19.0" y="35.56" text-anchor="end" class="ax">3500</text>

<text transform="translate(30.30,423.50) rotate(-69.5)" text-anchor="end" class="ax xl">20160301</text>
<text transform="translate(42.23,423.50) rotate(-69.5)" text-anchor="end" class="ax xl">20160324</text>
<text transform="translate(54.15,423.50) rotate(-69.5)" text-anchor="end" class="ax xl">20160419</text>
<text transform="translate(66.08,423.50) rotate(-69.5)" text-anchor="end" class="ax xl">20160512</text>
<text transform="translate(78.01,423.50) rotate(-69.5)" text-anchor="end" class="ax xl">20160607</text>
<text transform="translate(89.93,423.50) rotate(-69.5)" text-anchor="end" class="ax xl">20160630</text>
<text transform="translate(101.86,423.50) rotate(-69.5)" text-anchor="end" class="ax xl">20160726</text>
<text transform="translate(113.79,423.50) rotate(-69.5)" text-anchor="end" class="ax xl">20160819</text>
<text transform="translate(125.72,423.50) rotate(-69.5)" text-anchor="end" class="ax xl">20160914</text>
<text transform="translate(137.64,423.50) rotate(-69.5)" text-anchor="end" class="ax xl">20161007</text>
<text transform="translate(149.57,423.50) rotate(-69.5)" text-anchor="end" class="ax xl">20161102</text>
<text transform="translate(161.50,423.50) rotate(-69.5)" text-anchor="end" class="ax xl">20161125</text>
<text transform="translate(173.42,423.50) rotate(-69.5)" text-anchor="end" class="ax xl">20161220</text>
<text transform="translate(185.35,423.50) rotate(-69.5)" text-anchor="end" class="ax xl">20170117</text>
<text transform="translate(197.28,423.50) rotate(-69.5)" text-anchor="end" class="ax xl">20170209</text>
<text transform="translate(209.20,423.50) rotate(-69.5)" text-anchor="end" class="ax xl">20170307</text>
<text transform="translate(221.13,423.50) rotate(-69.5)" text-anchor="end" class="ax xl">20170330</text>
<text transform="translate(233.06,423.50) rotate(-69.5)" text-anchor="end" class="ax xl">20170425</text>
<text transform="translate(244.98,423.50) rotate(-69.5)" text-anchor="end" class="ax xl">20170518</text>
<text transform="translate(256.91,423.50) rotate(-69.5)" text-anchor="end" class="ax xl">20170613</text>
<text transform="translate(268.84,423.50) rotate(-69.5)" text-anchor="end" class="ax xl">20170707</text>
<text transform="translate(280.77,423.50) rotate(-69.5)" text-anchor="end" class="ax xl">20170801</text>
<text transform="translate(292.69,423.50) rotate(-69.5)" text-anchor="end" class="ax xl">20170825</text>
<text transform="translate(304.62,423.50) rotate(-69.5)" text-anchor="end" class="ax xl">20170920</text>
<text transform="translate(316.55,423.50) rotate(-69.5)" text-anchor="end" class="ax xl">20171016</text>
<text transform="translate(328.47,423.50) rotate(-69.5)" text-anchor="end" class="ax xl">20171108</text>
<text transform="translate(340.40,423.50) rotate(-69.5)" text-anchor="end" class="ax xl">20171201</text>
<text transform="translate(352.33,423.50) rotate(-69.5)" text-anchor="end" class="ax xl">20171228</text>
<text transform="translate(364.25,423.50) rotate(-69.5)" text-anchor="end" class="ax xl">20180123</text>
<text transform="translate(376.18,423.50) rotate(-69.5)" text-anchor="end" class="ax xl">20180215</text>
<text transform="translate(388.11,423.50) rotate(-69.5)" text-anchor="end" class="ax xl">20180313</text>
<text transform="translate(400.03,423.50) rotate(-69.5)" text-anchor="end" class="ax xl">20180406</text>
<text transform="translate(411.96,423.50) rotate(-69.5)" text-anchor="end" class="ax xl">20180501</text>
<text transform="translate(423.89,423.50) rotate(-69.5)" text-anchor="end" class="ax xl">20180525</text>
<text transform="translate(435.82,423.50) rotate(-69.5)" text-anchor="end" class="ax xl">20180619</text>
<text transform="translate(447.74,423.50) rotate(-69.5)" text-anchor="end" class="ax xl">20180713</text>
<text transform="translate(459.67,423.50) rotate(-69.5)" text-anchor="end" class="ax xl">20180808</text>
<text transform="translate(471.60,423.50) rotate(-69.5)" text-anchor="end" class="ax xl">20180831</text>
<text transform="translate(483.52,423.50) rotate(-69.5)" text-anchor="end" class="ax xl">20180926</text>
<text transform="translate(495.45,423.50) rotate(-69.5)" text-anchor="end" class="ax xl">20181022</text>
<text transform="translate(507.38,423.50) rotate(-69.5)" text-anchor="end" class="ax xl">20181114</text>
<text transform="translate(519.30,423.50) rotate(-69.5)" text-anchor="end" class="ax xl">20181207</text>
<text transform="translate(531.23,423.50) rotate(-69.5)" text-anchor="end" class="ax xl">20190104</text>
<text transform="translate(543.16,423.50) rotate(-69.5)" text-anchor="end" class="ax xl">20190129</text>
<text transform="translate(555.08,423.50) rotate(-69.5)" text-anchor="end" class="ax xl">20190222</text>
<text transform="translate(567.01,423.50) rotate(-69.5)" text-anchor="end" class="ax xl">20190319</text>
<text transform="translate(578.94,423.50) rotate(-69.5)" text-anchor="end" class="ax xl">20190411</text>
<text transform="translate(590.87,423.50) rotate(-69.5)" text-anchor="end" class="ax xl">20190507</text>
<text transform="translate(602.79,423.50) rotate(-69.5)" text-anchor="end" class="ax xl">20190531</text>
<text transform="translate(614.72,423.50) rotate(-69.5)" text-anchor="end" class="ax xl">20190625</text>
<text transform="translate(626.65,423.50) rotate(-69.5)" text-anchor="end" class="ax xl">20190719</text>
<text transform="translate(638.57,423.50) rotate(-69.5)" text-anchor="end" class="ax xl">20190814</text>
<text transform="translate(650.50,423.50) rotate(-69.5)" text-anchor="end" class="ax xl">20190909</text>

<text id="title" x="333" y="17.2" text-anchor="middle" font-size="12.6" textLength="434" lengthAdjust="spacingAndGlyphs" xml:space="preserve" style="white-space:pre">504 King Capacity at Jameson/EB March 2016 to September 2019  800 to 900</text>
<g id="legend">
<rect x="274.4" y="470.8" width="4.8" height="4.8" fill="#ff0000"/><text x="281.6" y="476.1" class="lg" textLength="18" lengthAdjust="spacingAndGlyphs">CLRV</text>
<rect x="307.2" y="470.8" width="4.8" height="4.8" fill="#385723"/><text x="314.2" y="476.1" class="lg" textLength="18.5" lengthAdjust="spacingAndGlyphs">ALRV</text>
<rect x="340.2" y="470.8" width="4.8" height="4.8" fill="#ffc000"/><text x="347.4" y="476.1" class="lg" textLength="21" lengthAdjust="spacingAndGlyphs">LFLRV</text>
<rect x="376.4" y="470.8" width="4.8" height="4.8" fill="#002060"/><text x="383.2" y="476.1" class="lg" textLength="12.4" lengthAdjust="spacingAndGlyphs">Bus</text>
</g>
</svg>
</body></html>
